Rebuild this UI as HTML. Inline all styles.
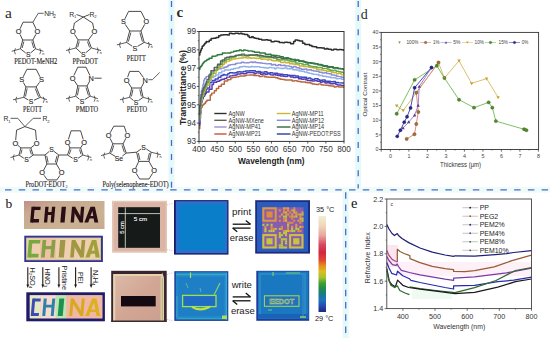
<!DOCTYPE html>
<html><head><meta charset="utf-8"><title>Figure</title>
<style>html,body{margin:0;padding:0;background:#fff;overflow:hidden;}svg{display:block;}</style>
</head><body>
<svg width="550" height="338" viewBox="0 0 550 338">
<rect width="550" height="338" fill="#ffffff"/>
<rect x="168.5" y="0" width="6" height="189" fill="#e6f9fa"/>
<rect x="355.2" y="0" width="6" height="189" fill="#e6f9fa"/>
<rect x="0" y="187" width="550" height="5.6" fill="#eefbfb"/>
<rect x="342.7" y="192" width="6" height="146" fill="#e6f9fa"/>
<text x="5" y="17.5" font-family='"Liberation Serif", serif' font-size="15.5" fill="#2a2a2a" text-anchor="start" font-weight="normal" style="">a</text>
<line x1="20.40" y1="48.80" x2="22.70" y2="40.00" stroke="#2a2a2a" stroke-width="0.85" />
<line x1="22.70" y1="40.00" x2="32.90" y2="40.00" stroke="#2a2a2a" stroke-width="0.85" />
<line x1="32.90" y1="40.00" x2="35.50" y2="48.80" stroke="#2a2a2a" stroke-width="0.85" />
<line x1="35.50" y1="48.80" x2="30.64" y2="52.93" stroke="#2a2a2a" stroke-width="0.85" />
<line x1="25.69" y1="53.01" x2="20.40" y2="48.80" stroke="#2a2a2a" stroke-width="0.85" />
<line x1="22.15" y1="48.02" x2="23.85" y2="41.54" stroke="#2a2a2a" stroke-width="0.8" />
<line x1="31.80" y1="41.58" x2="33.72" y2="48.07" stroke="#2a2a2a" stroke-width="0.8" />
<text x="28.2" y="57.448" font-family='"Liberation Sans", sans-serif' font-size="6.8" fill="#2a2a2a" text-anchor="middle" font-weight="normal" style="stroke:#2a2a2a;stroke-width:0.15">S</text>
<line x1="22.70" y1="40.00" x2="19.99" y2="34.31" stroke="#2a2a2a" stroke-width="0.85" />
<line x1="19.97" y1="28.88" x2="23.10" y2="22.20" stroke="#2a2a2a" stroke-width="0.85" />
<line x1="23.10" y1="22.20" x2="32.90" y2="22.20" stroke="#2a2a2a" stroke-width="0.85" />
<line x1="32.90" y1="22.20" x2="36.03" y2="28.88" stroke="#2a2a2a" stroke-width="0.85" />
<line x1="35.91" y1="34.26" x2="32.90" y2="40.00" stroke="#2a2a2a" stroke-width="0.85" />
<text x="18.7" y="34.264" font-family='"Liberation Sans", sans-serif' font-size="7.4" fill="#2a2a2a" text-anchor="middle" font-weight="normal" style="stroke:#2a2a2a;stroke-width:0.15">O</text>
<text x="37.3" y="34.264" font-family='"Liberation Sans", sans-serif' font-size="7.4" fill="#2a2a2a" text-anchor="middle" font-weight="normal" style="stroke:#2a2a2a;stroke-width:0.15">O</text>
<polyline points="32.90,22.20 38.20,13.30 43.60,13.30" fill="none" stroke="#2a2a2a" stroke-width="0.75" stroke-linejoin="round" />
<text x="44.2" y="16.0" font-family='"Liberation Sans", sans-serif' font-size="6.8" fill="#2a2a2a" text-anchor="start" font-weight="normal" style="">NH</text>
<text x="53.2" y="18.0" font-family='"Liberation Sans", sans-serif' font-size="4.6" fill="#2a2a2a" text-anchor="start" font-weight="normal" style="">2</text>
<line x1="20.40" y1="48.80" x2="11.70" y2="51.30" stroke="#2a2a2a" stroke-width="0.75" />
<line x1="35.50" y1="48.80" x2="43.50" y2="51.30" stroke="#2a2a2a" stroke-width="0.75" />
<path d="M15.40,48.30 Q13.48,51.30 15.40,54.30" fill="none" stroke="#2a2a2a" stroke-width="0.7"/>
<path d="M39.80,48.30 Q41.72,51.30 39.80,54.30" fill="none" stroke="#2a2a2a" stroke-width="0.7"/>
<text x="42.2" y="54.5" font-family='"Liberation Sans", sans-serif' font-size="3.8" fill="#2a2a2a" text-anchor="start" font-weight="normal" style="">n</text>
<text x="35.8" y="63.6" font-family='"Liberation Serif", serif' font-size="7.7" fill="#1a1a1a" text-anchor="middle" font-weight="normal" textLength="43" lengthAdjust="spacingAndGlyphs" style="stroke:#1a1a1a;stroke-width:0.12">PEDOT-MeNH2</text>
<line x1="75.90" y1="48.00" x2="78.10" y2="39.90" stroke="#2a2a2a" stroke-width="0.85" />
<line x1="78.10" y1="39.90" x2="88.40" y2="39.90" stroke="#2a2a2a" stroke-width="0.85" />
<line x1="88.40" y1="39.90" x2="91.40" y2="48.00" stroke="#2a2a2a" stroke-width="0.85" />
<line x1="91.40" y1="48.00" x2="85.75" y2="52.74" stroke="#2a2a2a" stroke-width="0.85" />
<line x1="80.94" y1="52.63" x2="75.90" y2="48.00" stroke="#2a2a2a" stroke-width="0.85" />
<line x1="77.66" y1="47.24" x2="79.23" y2="41.45" stroke="#2a2a2a" stroke-width="0.8" />
<line x1="87.41" y1="41.55" x2="89.58" y2="47.40" stroke="#2a2a2a" stroke-width="0.8" />
<text x="83.3" y="57.248" font-family='"Liberation Sans", sans-serif' font-size="6.8" fill="#2a2a2a" text-anchor="middle" font-weight="normal" style="stroke:#2a2a2a;stroke-width:0.15">S</text>
<line x1="78.10" y1="39.90" x2="74.52" y2="34.32" stroke="#2a2a2a" stroke-width="0.85" />
<line x1="73.40" y1="28.84" x2="74.40" y2="23.00" stroke="#2a2a2a" stroke-width="0.85" />
<line x1="74.40" y1="23.00" x2="83.30" y2="17.00" stroke="#2a2a2a" stroke-width="0.85" />
<line x1="83.30" y1="17.00" x2="92.60" y2="23.00" stroke="#2a2a2a" stroke-width="0.85" />
<line x1="92.60" y1="23.00" x2="93.80" y2="28.86" stroke="#2a2a2a" stroke-width="0.85" />
<line x1="92.61" y1="34.21" x2="88.40" y2="39.90" stroke="#2a2a2a" stroke-width="0.85" />
<text x="72.9" y="34.464" font-family='"Liberation Sans", sans-serif' font-size="7.4" fill="#2a2a2a" text-anchor="middle" font-weight="normal" style="stroke:#2a2a2a;stroke-width:0.15">O</text>
<text x="94.4" y="34.464" font-family='"Liberation Sans", sans-serif' font-size="7.4" fill="#2a2a2a" text-anchor="middle" font-weight="normal" style="stroke:#2a2a2a;stroke-width:0.15">O</text>
<line x1="83.30" y1="17.00" x2="76.50" y2="14.50" stroke="#2a2a2a" stroke-width="0.85" />
<line x1="83.30" y1="17.00" x2="89.50" y2="14.50" stroke="#2a2a2a" stroke-width="0.85" />
<text x="69.3" y="16.6" font-family='"Liberation Sans", sans-serif' font-size="6.8" fill="#2a2a2a" text-anchor="start" font-weight="normal" style="">R</text>
<text x="74.0" y="18.2" font-family='"Liberation Sans", sans-serif' font-size="4.2" fill="#2a2a2a" text-anchor="start" font-weight="normal" style="">1</text>
<text x="89.6" y="16.6" font-family='"Liberation Sans", sans-serif' font-size="6.8" fill="#2a2a2a" text-anchor="start" font-weight="normal" style="">R</text>
<text x="94.3" y="18.2" font-family='"Liberation Sans", sans-serif' font-size="4.2" fill="#2a2a2a" text-anchor="start" font-weight="normal" style="">2</text>
<line x1="75.90" y1="48.00" x2="66.00" y2="50.50" stroke="#2a2a2a" stroke-width="0.75" />
<line x1="91.40" y1="48.00" x2="101.00" y2="50.50" stroke="#2a2a2a" stroke-width="0.75" />
<path d="M69.70,47.50 Q67.78,50.50 69.70,53.50" fill="none" stroke="#2a2a2a" stroke-width="0.7"/>
<path d="M97.30,47.50 Q99.22,50.50 97.30,53.50" fill="none" stroke="#2a2a2a" stroke-width="0.7"/>
<text x="99.7" y="53.7" font-family='"Liberation Sans", sans-serif' font-size="3.8" fill="#2a2a2a" text-anchor="start" font-weight="normal" style="">n</text>
<text x="85.3" y="63.6" font-family='"Liberation Serif", serif' font-size="7.7" fill="#1a1a1a" text-anchor="middle" font-weight="normal" textLength="25.4" lengthAdjust="spacingAndGlyphs" style="stroke:#1a1a1a;stroke-width:0.12">PProDOT</text>
<line x1="126.60" y1="42.40" x2="129.70" y2="31.00" stroke="#2a2a2a" stroke-width="0.85" />
<line x1="129.70" y1="31.00" x2="141.00" y2="31.00" stroke="#2a2a2a" stroke-width="0.85" />
<line x1="141.00" y1="31.00" x2="144.20" y2="42.40" stroke="#2a2a2a" stroke-width="0.85" />
<line x1="144.20" y1="42.40" x2="137.55" y2="46.36" stroke="#2a2a2a" stroke-width="0.85" />
<line x1="132.16" y1="46.20" x2="126.60" y2="42.40" stroke="#2a2a2a" stroke-width="0.85" />
<line x1="128.36" y1="41.64" x2="130.83" y2="32.55" stroke="#2a2a2a" stroke-width="0.8" />
<line x1="139.88" y1="32.56" x2="142.43" y2="41.65" stroke="#2a2a2a" stroke-width="0.8" />
<text x="134.8" y="50.592" font-family='"Liberation Sans", sans-serif' font-size="7.2" fill="#2a2a2a" text-anchor="middle" font-weight="normal" style="stroke:#2a2a2a;stroke-width:0.15">S</text>
<line x1="129.70" y1="31.00" x2="125.28" y2="24.36" stroke="#2a2a2a" stroke-width="0.85" />
<line x1="124.92" y1="18.83" x2="128.60" y2="11.40" stroke="#2a2a2a" stroke-width="0.85" />
<line x1="128.60" y1="11.40" x2="141.00" y2="11.40" stroke="#2a2a2a" stroke-width="0.85" />
<line x1="141.00" y1="11.40" x2="144.85" y2="19.02" stroke="#2a2a2a" stroke-width="0.85" />
<line x1="144.74" y1="24.32" x2="141.00" y2="31.00" stroke="#2a2a2a" stroke-width="0.85" />
<text x="123.5" y="24.291999999999998" font-family='"Liberation Sans", sans-serif' font-size="7.2" fill="#2a2a2a" text-anchor="middle" font-weight="normal" style="stroke:#2a2a2a;stroke-width:0.15">S</text>
<text x="146.2" y="24.291999999999998" font-family='"Liberation Sans", sans-serif' font-size="7.2" fill="#2a2a2a" text-anchor="middle" font-weight="normal" style="stroke:#2a2a2a;stroke-width:0.15">O</text>
<line x1="126.60" y1="42.40" x2="116.80" y2="44.90" stroke="#2a2a2a" stroke-width="0.75" />
<line x1="144.20" y1="42.40" x2="152.10" y2="44.90" stroke="#2a2a2a" stroke-width="0.75" />
<path d="M120.50,41.90 Q118.58,44.90 120.50,47.90" fill="none" stroke="#2a2a2a" stroke-width="0.7"/>
<path d="M148.40,41.90 Q150.32,44.90 148.40,47.90" fill="none" stroke="#2a2a2a" stroke-width="0.7"/>
<text x="150.79999999999998" y="48.1" font-family='"Liberation Sans", sans-serif' font-size="3.8" fill="#2a2a2a" text-anchor="start" font-weight="normal" style="">n</text>
<text x="136.3" y="60.8" font-family='"Liberation Serif", serif' font-size="7.7" fill="#1a1a1a" text-anchor="middle" font-weight="normal" textLength="19" lengthAdjust="spacingAndGlyphs" style="stroke:#1a1a1a;stroke-width:0.12">PEDTT</text>
<line x1="23.80" y1="97.30" x2="25.90" y2="86.90" stroke="#2a2a2a" stroke-width="0.85" />
<line x1="25.90" y1="86.90" x2="36.20" y2="86.90" stroke="#2a2a2a" stroke-width="0.85" />
<line x1="36.20" y1="86.90" x2="40.40" y2="97.30" stroke="#2a2a2a" stroke-width="0.85" />
<line x1="40.40" y1="97.30" x2="34.00" y2="100.26" stroke="#2a2a2a" stroke-width="0.85" />
<line x1="28.34" y1="99.98" x2="23.80" y2="97.30" stroke="#2a2a2a" stroke-width="0.85" />
<line x1="25.51" y1="96.42" x2="27.13" y2="88.37" stroke="#2a2a2a" stroke-width="0.8" />
<line x1="35.26" y1="88.57" x2="38.56" y2="96.75" stroke="#2a2a2a" stroke-width="0.8" />
<text x="31.1" y="104.04799999999999" font-family='"Liberation Sans", sans-serif' font-size="6.8" fill="#2a2a2a" text-anchor="middle" font-weight="normal" style="stroke:#2a2a2a;stroke-width:0.15">S</text>
<line x1="25.90" y1="86.90" x2="23.31" y2="82.46" stroke="#2a2a2a" stroke-width="0.85" />
<line x1="23.13" y1="76.84" x2="26.90" y2="69.30" stroke="#2a2a2a" stroke-width="0.85" />
<line x1="26.90" y1="69.30" x2="36.20" y2="69.30" stroke="#2a2a2a" stroke-width="0.85" />
<line x1="36.20" y1="69.30" x2="39.97" y2="76.84" stroke="#2a2a2a" stroke-width="0.85" />
<line x1="39.53" y1="82.29" x2="36.20" y2="86.90" stroke="#2a2a2a" stroke-width="0.85" />
<text x="21.7" y="82.364" font-family='"Liberation Sans", sans-serif' font-size="7.4" fill="#2a2a2a" text-anchor="middle" font-weight="normal" style="stroke:#2a2a2a;stroke-width:0.15">S</text>
<text x="41.4" y="82.364" font-family='"Liberation Sans", sans-serif' font-size="7.4" fill="#2a2a2a" text-anchor="middle" font-weight="normal" style="stroke:#2a2a2a;stroke-width:0.15">S</text>
<line x1="23.80" y1="97.30" x2="13.00" y2="99.80" stroke="#2a2a2a" stroke-width="0.75" />
<line x1="40.40" y1="97.30" x2="47.00" y2="99.80" stroke="#2a2a2a" stroke-width="0.75" />
<path d="M16.70,96.80 Q14.78,99.80 16.70,102.80" fill="none" stroke="#2a2a2a" stroke-width="0.7"/>
<path d="M43.30,96.80 Q45.22,99.80 43.30,102.80" fill="none" stroke="#2a2a2a" stroke-width="0.7"/>
<text x="45.7" y="103.0" font-family='"Liberation Sans", sans-serif' font-size="3.8" fill="#2a2a2a" text-anchor="start" font-weight="normal" style="">n</text>
<text x="32.5" y="111.8" font-family='"Liberation Serif", serif' font-size="7.7" fill="#1a1a1a" text-anchor="middle" font-weight="normal" textLength="19" lengthAdjust="spacingAndGlyphs" style="stroke:#1a1a1a;stroke-width:0.12">PEOTT</text>
<line x1="75.70" y1="96.20" x2="77.80" y2="85.90" stroke="#2a2a2a" stroke-width="0.85" />
<line x1="77.80" y1="85.90" x2="87.10" y2="85.90" stroke="#2a2a2a" stroke-width="0.85" />
<line x1="87.10" y1="85.90" x2="90.20" y2="96.20" stroke="#2a2a2a" stroke-width="0.85" />
<line x1="90.20" y1="96.20" x2="84.64" y2="99.55" stroke="#2a2a2a" stroke-width="0.85" />
<line x1="79.41" y1="99.19" x2="75.70" y2="96.20" stroke="#2a2a2a" stroke-width="0.85" />
<line x1="77.41" y1="95.32" x2="79.03" y2="87.38" stroke="#2a2a2a" stroke-width="0.8" />
<line x1="86.01" y1="87.48" x2="88.42" y2="95.48" stroke="#2a2a2a" stroke-width="0.8" />
<text x="81.9" y="103.648" font-family='"Liberation Sans", sans-serif' font-size="6.8" fill="#2a2a2a" text-anchor="middle" font-weight="normal" style="stroke:#2a2a2a;stroke-width:0.15">S</text>
<line x1="77.80" y1="85.90" x2="74.28" y2="80.69" stroke="#2a2a2a" stroke-width="0.85" />
<line x1="73.88" y1="75.49" x2="77.80" y2="67.20" stroke="#2a2a2a" stroke-width="0.85" />
<line x1="77.80" y1="67.20" x2="86.00" y2="67.20" stroke="#2a2a2a" stroke-width="0.85" />
<line x1="86.00" y1="67.20" x2="89.92" y2="75.49" stroke="#2a2a2a" stroke-width="0.85" />
<line x1="89.79" y1="80.85" x2="87.10" y2="85.90" stroke="#2a2a2a" stroke-width="0.85" />
<text x="72.6" y="80.864" font-family='"Liberation Sans", sans-serif' font-size="7.4" fill="#2a2a2a" text-anchor="middle" font-weight="normal" style="stroke:#2a2a2a;stroke-width:0.15">O</text>
<text x="91.2" y="80.864" font-family='"Liberation Sans", sans-serif' font-size="7.4" fill="#2a2a2a" text-anchor="middle" font-weight="normal" style="stroke:#2a2a2a;stroke-width:0.15">N</text>
<line x1="94.40" y1="78.20" x2="101.60" y2="78.20" stroke="#2a2a2a" stroke-width="0.85" />
<line x1="75.70" y1="96.20" x2="66.00" y2="98.70" stroke="#2a2a2a" stroke-width="0.75" />
<line x1="90.20" y1="96.20" x2="97.90" y2="98.70" stroke="#2a2a2a" stroke-width="0.75" />
<path d="M69.70,95.70 Q67.78,98.70 69.70,101.70" fill="none" stroke="#2a2a2a" stroke-width="0.7"/>
<path d="M94.20,95.70 Q96.12,98.70 94.20,101.70" fill="none" stroke="#2a2a2a" stroke-width="0.7"/>
<text x="96.60000000000001" y="101.9" font-family='"Liberation Sans", sans-serif' font-size="3.8" fill="#2a2a2a" text-anchor="start" font-weight="normal" style="">n</text>
<text x="87" y="111.8" font-family='"Liberation Serif", serif' font-size="7.7" fill="#1a1a1a" text-anchor="middle" font-weight="normal" textLength="22.3" lengthAdjust="spacingAndGlyphs" style="stroke:#1a1a1a;stroke-width:0.12">PMDTO</text>
<line x1="129.70" y1="97.30" x2="131.70" y2="88.00" stroke="#2a2a2a" stroke-width="0.85" />
<line x1="131.70" y1="88.00" x2="141.00" y2="88.00" stroke="#2a2a2a" stroke-width="0.85" />
<line x1="141.00" y1="88.00" x2="143.10" y2="97.30" stroke="#2a2a2a" stroke-width="0.85" />
<line x1="143.10" y1="97.30" x2="138.48" y2="100.70" stroke="#2a2a2a" stroke-width="0.85" />
<line x1="133.47" y1="100.52" x2="129.70" y2="97.30" stroke="#2a2a2a" stroke-width="0.85" />
<line x1="131.42" y1="96.44" x2="132.91" y2="89.49" stroke="#2a2a2a" stroke-width="0.8" />
<line x1="139.80" y1="89.50" x2="141.37" y2="96.46" stroke="#2a2a2a" stroke-width="0.8" />
<text x="135.9" y="105.04799999999999" font-family='"Liberation Sans", sans-serif' font-size="6.8" fill="#2a2a2a" text-anchor="middle" font-weight="normal" style="stroke:#2a2a2a;stroke-width:0.15">S</text>
<line x1="131.70" y1="88.00" x2="128.21" y2="82.53" stroke="#2a2a2a" stroke-width="0.85" />
<line x1="127.62" y1="77.18" x2="129.70" y2="71.40" stroke="#2a2a2a" stroke-width="0.85" />
<line x1="129.70" y1="71.40" x2="139.00" y2="71.40" stroke="#2a2a2a" stroke-width="0.85" />
<line x1="139.00" y1="71.40" x2="143.45" y2="77.57" stroke="#2a2a2a" stroke-width="0.85" />
<line x1="143.81" y1="82.66" x2="141.00" y2="88.00" stroke="#2a2a2a" stroke-width="0.85" />
<text x="126.6" y="82.664" font-family='"Liberation Sans", sans-serif' font-size="7.4" fill="#2a2a2a" text-anchor="middle" font-weight="normal" style="stroke:#2a2a2a;stroke-width:0.15">O</text>
<text x="145.2" y="82.664" font-family='"Liberation Sans", sans-serif' font-size="7.4" fill="#2a2a2a" text-anchor="middle" font-weight="normal" style="stroke:#2a2a2a;stroke-width:0.15">N</text>
<polyline points="148.30,79.70 152.40,79.70 159.70,72.40" fill="none" stroke="#2a2a2a" stroke-width="0.75" stroke-linejoin="round" />
<line x1="129.70" y1="97.30" x2="119.90" y2="99.80" stroke="#2a2a2a" stroke-width="0.75" />
<line x1="143.10" y1="97.30" x2="151.80" y2="99.80" stroke="#2a2a2a" stroke-width="0.75" />
<path d="M123.60,96.80 Q121.68,99.80 123.60,102.80" fill="none" stroke="#2a2a2a" stroke-width="0.7"/>
<path d="M148.10,96.80 Q150.02,99.80 148.10,102.80" fill="none" stroke="#2a2a2a" stroke-width="0.7"/>
<text x="150.5" y="103.0" font-family='"Liberation Sans", sans-serif' font-size="3.8" fill="#2a2a2a" text-anchor="start" font-weight="normal" style="">n</text>
<text x="137" y="111.8" font-family='"Liberation Serif", serif' font-size="7.7" fill="#1a1a1a" text-anchor="middle" font-weight="normal" textLength="20.3" lengthAdjust="spacingAndGlyphs" style="stroke:#1a1a1a;stroke-width:0.12">PEDTO</text>
<line x1="19.00" y1="155.00" x2="20.90" y2="147.90" stroke="#2a2a2a" stroke-width="0.85" />
<line x1="20.90" y1="147.90" x2="30.80" y2="147.90" stroke="#2a2a2a" stroke-width="0.85" />
<line x1="30.80" y1="147.90" x2="33.20" y2="155.00" stroke="#2a2a2a" stroke-width="0.85" />
<line x1="33.20" y1="155.00" x2="29.06" y2="158.09" stroke="#2a2a2a" stroke-width="0.85" />
<line x1="23.84" y1="158.22" x2="19.00" y2="155.00" stroke="#2a2a2a" stroke-width="0.85" />
<line x1="20.76" y1="154.23" x2="22.04" y2="149.45" stroke="#2a2a2a" stroke-width="0.8" />
<line x1="29.76" y1="149.52" x2="31.39" y2="154.34" stroke="#2a2a2a" stroke-width="0.8" />
<text x="26.5" y="162.448" font-family='"Liberation Sans", sans-serif' font-size="6.8" fill="#2a2a2a" text-anchor="middle" font-weight="normal" style="stroke:#2a2a2a;stroke-width:0.15">S</text>
<line x1="20.90" y1="147.90" x2="17.68" y2="145.15" stroke="#2a2a2a" stroke-width="0.85" />
<line x1="15.67" y1="140.21" x2="16.60" y2="130.10" stroke="#2a2a2a" stroke-width="0.85" />
<line x1="16.60" y1="130.10" x2="24.90" y2="126.60" stroke="#2a2a2a" stroke-width="0.85" />
<line x1="24.90" y1="126.60" x2="35.50" y2="130.10" stroke="#2a2a2a" stroke-width="0.85" />
<line x1="35.50" y1="130.10" x2="36.43" y2="140.21" stroke="#2a2a2a" stroke-width="0.85" />
<line x1="34.35" y1="145.07" x2="30.80" y2="147.90" stroke="#2a2a2a" stroke-width="0.85" />
<text x="15.4" y="145.86399999999998" font-family='"Liberation Sans", sans-serif' font-size="7.4" fill="#2a2a2a" text-anchor="middle" font-weight="normal" style="stroke:#2a2a2a;stroke-width:0.15">O</text>
<text x="36.7" y="145.86399999999998" font-family='"Liberation Sans", sans-serif' font-size="7.4" fill="#2a2a2a" text-anchor="middle" font-weight="normal" style="stroke:#2a2a2a;stroke-width:0.15">O</text>
<polyline points="10.50,118.30 17.80,118.30 24.90,126.60" fill="none" stroke="#2a2a2a" stroke-width="0.75" stroke-linejoin="round" />
<polyline points="24.90,126.60 33.20,118.30 41.00,118.30" fill="none" stroke="#2a2a2a" stroke-width="0.75" stroke-linejoin="round" />
<text x="3.6" y="121.2" font-family='"Liberation Sans", sans-serif' font-size="6.8" fill="#2a2a2a" text-anchor="start" font-weight="normal" style="">R</text>
<text x="8.3" y="122.8" font-family='"Liberation Sans", sans-serif' font-size="4.2" fill="#2a2a2a" text-anchor="start" font-weight="normal" style="">1</text>
<text x="42.5" y="121.2" font-family='"Liberation Sans", sans-serif' font-size="6.8" fill="#2a2a2a" text-anchor="start" font-weight="normal" style="">R</text>
<text x="47.2" y="122.8" font-family='"Liberation Sans", sans-serif' font-size="4.2" fill="#2a2a2a" text-anchor="start" font-weight="normal" style="">2</text>
<line x1="45.00" y1="155.00" x2="46.90" y2="164.00" stroke="#2a2a2a" stroke-width="0.85" />
<line x1="46.90" y1="164.00" x2="56.40" y2="164.00" stroke="#2a2a2a" stroke-width="0.85" />
<line x1="56.40" y1="164.00" x2="58.80" y2="155.00" stroke="#2a2a2a" stroke-width="0.85" />
<line x1="58.80" y1="155.00" x2="54.06" y2="151.43" stroke="#2a2a2a" stroke-width="0.85" />
<line x1="49.06" y1="151.57" x2="45.00" y2="155.00" stroke="#2a2a2a" stroke-width="0.85" />
<line x1="46.72" y1="155.86" x2="48.12" y2="162.52" stroke="#2a2a2a" stroke-width="0.8" />
<line x1="55.26" y1="162.45" x2="57.04" y2="155.77" stroke="#2a2a2a" stroke-width="0.8" />
<text x="51.5" y="151.948" font-family='"Liberation Sans", sans-serif' font-size="6.8" fill="#2a2a2a" text-anchor="middle" font-weight="normal" style="stroke:#2a2a2a;stroke-width:0.15">S</text>
<line x1="33.20" y1="155.00" x2="45.00" y2="155.00" stroke="#2a2a2a" stroke-width="0.85" />
<line x1="46.90" y1="164.00" x2="43.61" y2="170.15" stroke="#2a2a2a" stroke-width="0.85" />
<line x1="43.97" y1="175.22" x2="47.40" y2="179.90" stroke="#2a2a2a" stroke-width="0.85" />
<line x1="47.40" y1="179.90" x2="56.90" y2="179.90" stroke="#2a2a2a" stroke-width="0.85" />
<line x1="56.90" y1="179.90" x2="59.94" y2="175.30" stroke="#2a2a2a" stroke-width="0.85" />
<line x1="60.07" y1="170.22" x2="56.40" y2="164.00" stroke="#2a2a2a" stroke-width="0.85" />
<text x="42.2" y="175.464" font-family='"Liberation Sans", sans-serif' font-size="7.4" fill="#2a2a2a" text-anchor="middle" font-weight="normal" style="stroke:#2a2a2a;stroke-width:0.15">O</text>
<text x="61.6" y="175.464" font-family='"Liberation Sans", sans-serif' font-size="7.4" fill="#2a2a2a" text-anchor="middle" font-weight="normal" style="stroke:#2a2a2a;stroke-width:0.15">O</text>
<line x1="67.50" y1="155.00" x2="69.90" y2="147.90" stroke="#2a2a2a" stroke-width="0.85" />
<line x1="69.90" y1="147.90" x2="80.60" y2="147.90" stroke="#2a2a2a" stroke-width="0.85" />
<line x1="80.60" y1="147.90" x2="82.90" y2="155.00" stroke="#2a2a2a" stroke-width="0.85" />
<line x1="82.90" y1="155.00" x2="78.06" y2="158.22" stroke="#2a2a2a" stroke-width="0.85" />
<line x1="72.70" y1="158.29" x2="67.50" y2="155.00" stroke="#2a2a2a" stroke-width="0.85" />
<line x1="69.31" y1="154.34" x2="70.94" y2="149.52" stroke="#2a2a2a" stroke-width="0.8" />
<line x1="79.54" y1="149.50" x2="81.10" y2="154.32" stroke="#2a2a2a" stroke-width="0.8" />
<text x="75.4" y="162.448" font-family='"Liberation Sans", sans-serif' font-size="6.8" fill="#2a2a2a" text-anchor="middle" font-weight="normal" style="stroke:#2a2a2a;stroke-width:0.15">S</text>
<line x1="58.80" y1="155.00" x2="67.50" y2="155.00" stroke="#2a2a2a" stroke-width="0.85" />
<line x1="69.90" y1="147.90" x2="68.68" y2="145.06" stroke="#2a2a2a" stroke-width="0.85" />
<line x1="68.40" y1="139.44" x2="71.10" y2="130.80" stroke="#2a2a2a" stroke-width="0.85" />
<line x1="71.10" y1="130.80" x2="80.60" y2="130.80" stroke="#2a2a2a" stroke-width="0.85" />
<line x1="80.60" y1="130.80" x2="83.23" y2="139.43" stroke="#2a2a2a" stroke-width="0.85" />
<line x1="82.51" y1="144.84" x2="80.60" y2="147.90" stroke="#2a2a2a" stroke-width="0.85" />
<text x="67.5" y="144.964" font-family='"Liberation Sans", sans-serif' font-size="7.4" fill="#2a2a2a" text-anchor="middle" font-weight="normal" style="stroke:#2a2a2a;stroke-width:0.15">O</text>
<text x="84.1" y="144.964" font-family='"Liberation Sans", sans-serif' font-size="7.4" fill="#2a2a2a" text-anchor="middle" font-weight="normal" style="stroke:#2a2a2a;stroke-width:0.15">O</text>
<line x1="19.00" y1="155.00" x2="10.50" y2="157.50" stroke="#2a2a2a" stroke-width="0.75" />
<line x1="82.90" y1="155.00" x2="91.40" y2="157.50" stroke="#2a2a2a" stroke-width="0.75" />
<path d="M14.20,154.50 Q12.28,157.50 14.20,160.50" fill="none" stroke="#2a2a2a" stroke-width="0.7"/>
<path d="M87.70,154.50 Q89.62,157.50 87.70,160.50" fill="none" stroke="#2a2a2a" stroke-width="0.7"/>
<text x="90.10000000000001" y="160.7" font-family='"Liberation Sans", sans-serif' font-size="3.8" fill="#2a2a2a" text-anchor="start" font-weight="normal" style="">n</text>
<text x="45.4" y="186.9" font-family='"Liberation Serif", serif' font-size="7.7" fill="#1a1a1a" text-anchor="middle" font-weight="normal" textLength="39.8" lengthAdjust="spacingAndGlyphs" style="stroke:#1a1a1a;stroke-width:0.12">ProDOT-EDOT</text>
<text x="65.6" y="188.4" font-family='"Liberation Serif", serif' font-size="4.2" fill="#1a1a1a" text-anchor="start" font-weight="normal" style="">2</text>
<line x1="109.70" y1="153.10" x2="112.80" y2="143.80" stroke="#2a2a2a" stroke-width="0.85" />
<line x1="112.80" y1="143.80" x2="123.10" y2="143.80" stroke="#2a2a2a" stroke-width="0.85" />
<line x1="123.10" y1="143.80" x2="126.20" y2="153.10" stroke="#2a2a2a" stroke-width="0.85" />
<line x1="126.20" y1="153.10" x2="122.36" y2="155.98" stroke="#2a2a2a" stroke-width="0.85" />
<line x1="115.37" y1="156.39" x2="109.70" y2="153.10" stroke="#2a2a2a" stroke-width="0.85" />
<line x1="111.50" y1="152.44" x2="113.84" y2="145.41" stroke="#2a2a2a" stroke-width="0.8" />
<line x1="122.06" y1="145.41" x2="124.40" y2="152.44" stroke="#2a2a2a" stroke-width="0.8" />
<text x="119" y="160.948" font-family='"Liberation Sans", sans-serif' font-size="6.8" fill="#2a2a2a" text-anchor="middle" font-weight="normal" style="stroke:#2a2a2a;stroke-width:0.15">Se</text>
<line x1="112.80" y1="143.80" x2="109.95" y2="138.18" stroke="#2a2a2a" stroke-width="0.85" />
<line x1="110.06" y1="132.88" x2="113.80" y2="126.20" stroke="#2a2a2a" stroke-width="0.85" />
<line x1="113.80" y1="126.20" x2="124.20" y2="126.20" stroke="#2a2a2a" stroke-width="0.85" />
<line x1="124.20" y1="126.20" x2="126.35" y2="132.65" stroke="#2a2a2a" stroke-width="0.85" />
<line x1="125.95" y1="138.18" x2="123.10" y2="143.80" stroke="#2a2a2a" stroke-width="0.85" />
<text x="108.6" y="138.164" font-family='"Liberation Sans", sans-serif' font-size="7.4" fill="#2a2a2a" text-anchor="middle" font-weight="normal" style="stroke:#2a2a2a;stroke-width:0.15">O</text>
<text x="127.3" y="138.164" font-family='"Liberation Sans", sans-serif' font-size="7.4" fill="#2a2a2a" text-anchor="middle" font-weight="normal" style="stroke:#2a2a2a;stroke-width:0.15">O</text>
<line x1="136.60" y1="152.20" x2="138.70" y2="161.40" stroke="#2a2a2a" stroke-width="0.85" />
<line x1="138.70" y1="161.40" x2="149.00" y2="161.40" stroke="#2a2a2a" stroke-width="0.85" />
<line x1="149.00" y1="161.40" x2="151.20" y2="152.20" stroke="#2a2a2a" stroke-width="0.85" />
<line x1="151.20" y1="152.20" x2="146.27" y2="148.96" stroke="#2a2a2a" stroke-width="0.85" />
<line x1="141.00" y1="149.06" x2="136.60" y2="152.20" stroke="#2a2a2a" stroke-width="0.85" />
<line x1="138.33" y1="153.04" x2="139.90" y2="159.90" stroke="#2a2a2a" stroke-width="0.8" />
<line x1="147.82" y1="159.88" x2="149.46" y2="153.02" stroke="#2a2a2a" stroke-width="0.8" />
<text x="143.6" y="149.648" font-family='"Liberation Sans", sans-serif' font-size="6.8" fill="#2a2a2a" text-anchor="middle" font-weight="normal" style="stroke:#2a2a2a;stroke-width:0.15">S</text>
<line x1="126.20" y1="153.10" x2="136.60" y2="152.20" stroke="#2a2a2a" stroke-width="0.85" />
<line x1="138.70" y1="161.40" x2="135.73" y2="167.97" stroke="#2a2a2a" stroke-width="0.85" />
<line x1="136.09" y1="173.24" x2="139.70" y2="179.00" stroke="#2a2a2a" stroke-width="0.85" />
<line x1="139.70" y1="179.00" x2="149.00" y2="179.00" stroke="#2a2a2a" stroke-width="0.85" />
<line x1="149.00" y1="179.00" x2="152.61" y2="173.24" stroke="#2a2a2a" stroke-width="0.85" />
<line x1="152.74" y1="168.08" x2="149.00" y2="161.40" stroke="#2a2a2a" stroke-width="0.85" />
<text x="134.5" y="173.36399999999998" font-family='"Liberation Sans", sans-serif' font-size="7.4" fill="#2a2a2a" text-anchor="middle" font-weight="normal" style="stroke:#2a2a2a;stroke-width:0.15">O</text>
<text x="154.2" y="173.36399999999998" font-family='"Liberation Sans", sans-serif' font-size="7.4" fill="#2a2a2a" text-anchor="middle" font-weight="normal" style="stroke:#2a2a2a;stroke-width:0.15">O</text>
<line x1="109.70" y1="153.10" x2="101.00" y2="155.60" stroke="#2a2a2a" stroke-width="0.75" />
<line x1="151.20" y1="152.20" x2="160.80" y2="154.70" stroke="#2a2a2a" stroke-width="0.75" />
<path d="M104.70,152.60 Q102.78,155.60 104.70,158.60" fill="none" stroke="#2a2a2a" stroke-width="0.7"/>
<path d="M157.10,151.70 Q159.02,154.70 157.10,157.70" fill="none" stroke="#2a2a2a" stroke-width="0.7"/>
<text x="159.5" y="157.89999999999998" font-family='"Liberation Sans", sans-serif' font-size="3.8" fill="#2a2a2a" text-anchor="start" font-weight="normal" style="">n</text>
<text x="135.6" y="187.0" font-family='"Liberation Serif", serif' font-size="7.7" fill="#1a1a1a" text-anchor="middle" font-weight="normal" textLength="66.3" lengthAdjust="spacingAndGlyphs" style="stroke:#1a1a1a;stroke-width:0.12">Poly(selenophene-EDOT)</text>
<text x="176.5" y="17.2" font-family='"Liberation Serif", serif' font-size="15" fill="#2a2a2a" text-anchor="start" font-weight="bold" style="">c</text>
<polyline points="199.00,128.50 199.80,128.50 199.80,118.05 200.60,118.05 200.60,108.50 201.40,108.50 201.40,107.18 202.20,107.18 202.20,105.61 203.00,105.61 203.00,104.70 203.80,104.70 203.80,103.99 204.60,103.99 204.60,103.52 205.40,103.52 205.40,102.05 206.20,102.05 206.20,101.19 207.00,101.19 207.00,100.21 210.27,100.21 210.27,95.00 211.79,95.00 211.79,93.11 214.39,93.11 214.39,90.84 216.38,90.84 216.38,88.55 218.69,88.55 218.69,86.23 221.41,86.23 221.41,84.15 224.32,84.15 224.32,81.00 227.62,81.00 227.62,79.74 229.15,79.74 229.15,79.64 230.84,79.64 230.84,77.75 232.86,77.75 232.86,77.36 236.03,77.36 236.03,76.88 238.52,76.88 238.52,76.37 240.09,76.37 240.09,75.98 243.15,75.98 243.15,76.00 245.02,76.00 245.02,75.44 246.53,75.44 246.53,75.12 249.54,75.12 249.54,74.90 252.01,74.90 252.01,74.93 253.73,74.93 253.73,75.42 255.89,75.42 255.89,75.60 257.55,75.60 257.55,75.58 259.17,75.58 259.17,76.41 262.16,76.41 262.16,75.86 264.44,75.86 264.44,76.67 266.35,76.67 266.35,77.02 268.97,77.02 268.97,77.39 270.64,77.39 270.64,77.25 272.40,77.25 272.40,77.28 275.41,77.28 275.41,77.66 277.78,77.66 277.78,78.54 280.05,78.54 280.05,79.30 282.86,79.30 282.86,79.43 284.91,79.43 284.91,80.06 287.21,80.06 287.21,79.90 289.40,79.90 289.40,79.96 292.14,79.96 292.14,81.02 294.58,81.02 294.58,80.61 297.02,80.61 297.02,81.27 298.58,81.27 298.58,81.59 300.91,81.59 300.91,82.00 303.16,82.00 303.16,82.09 305.63,82.09 305.63,82.52 307.39,82.52 307.39,82.80 310.69,82.80 310.69,83.33 312.20,83.33 312.20,84.01 314.66,84.01 314.66,84.33 316.28,84.33 316.28,84.51 318.59,84.51 318.59,83.89 320.97,83.89 320.97,84.84 323.24,84.84 323.24,85.13 325.54,85.13 325.54,85.24 328.71,85.24 328.71,85.66 330.96,85.66 330.96,85.99 334.15,85.99 334.15,86.92 336.04,86.92 336.04,86.64 338.80,86.64 338.80,86.94 341.37,86.94 341.37,87.05 343.73,87.05 343.73,87.36 344.00,87.36" fill="none" stroke="#b5693c" stroke-width="1.45" stroke-linejoin="round" />
<polyline points="199.00,124.97 199.80,124.97 199.80,114.24 200.60,114.24 200.60,104.65 201.40,104.65 201.40,102.12 202.20,102.12 202.20,99.04 203.00,99.04 203.00,96.84 203.80,96.84 203.80,96.20 204.60,96.20 204.60,94.77 205.40,94.77 205.40,93.56 206.20,93.56 206.20,92.30 207.00,92.30 207.00,91.99 209.02,91.99 209.02,89.27 212.02,89.27 212.02,84.57 213.54,84.57 213.54,82.24 216.83,82.24 216.83,81.17 219.45,81.17 219.45,80.58 220.92,80.58 220.92,79.53 222.47,79.53 222.47,79.23 224.38,79.23 224.38,78.57 226.71,78.57 226.71,77.11 229.77,77.11 229.77,75.87 232.44,75.87 232.44,75.42 235.15,75.42 235.15,75.00 237.12,75.00 237.12,74.06 240.47,74.06 240.47,73.64 243.27,73.64 243.27,73.73 245.15,73.73 245.15,73.43 246.73,73.43 246.73,72.63 248.94,72.63 248.94,72.41 251.12,72.41 251.12,72.46 254.19,72.46 254.19,73.75 256.03,73.75 256.03,72.89 258.37,72.89 258.37,73.00 260.58,73.00 260.58,74.16 263.22,74.16 263.22,73.59 265.18,73.59 265.18,74.51 267.26,74.51 267.26,73.70 270.16,73.70 270.16,74.86 272.07,74.86 272.07,75.05 273.62,75.05 273.62,74.45 275.40,74.45 275.40,74.91 277.70,74.91 277.70,75.57 280.55,75.57 280.55,75.96 283.23,75.96 283.23,76.27 285.47,76.27 285.47,76.41 287.43,76.41 287.43,75.80 290.41,75.80 290.41,76.93 293.55,76.93 293.55,77.63 295.75,77.63 295.75,77.35 298.42,77.35 298.42,78.69 301.76,78.69 301.76,79.20 303.70,79.20 303.70,78.96 305.77,78.96 305.77,79.88 307.35,79.88 307.35,80.41 309.91,80.41 309.91,80.65 312.50,80.65 312.50,80.90 314.81,80.90 314.81,80.61 317.18,80.61 317.18,81.39 320.29,81.39 320.29,82.29 322.02,82.29 322.02,81.75 325.03,81.75 325.03,82.93 326.84,82.93 326.84,82.67 330.08,82.67 330.08,83.76 333.35,83.76 333.35,83.50 335.94,83.50 335.94,84.40 337.58,84.40 337.58,85.07 340.87,85.07 340.87,85.35 343.67,85.35 343.67,85.75 344.00,85.75" fill="none" stroke="#5a3ab0" stroke-width="1.45" stroke-linejoin="round" />
<polyline points="199.00,123.11 199.80,123.11 199.80,112.80 200.60,112.80 200.60,103.96 201.40,103.96 201.40,101.20 202.20,101.20 202.20,98.63 203.00,98.63 203.00,96.54 203.80,96.54 203.80,94.96 204.60,94.96 204.60,92.69 205.40,92.69 205.40,91.13 206.20,91.13 206.20,89.54 207.00,89.54 207.00,87.90 209.71,87.90 209.71,82.64 211.99,82.64 211.99,80.56 215.17,80.56 215.17,78.96 218.19,78.96 218.19,77.31 220.95,77.31 220.95,75.59 223.16,75.59 223.16,74.45 224.64,74.45 224.64,74.93 227.83,74.93 227.83,73.60 229.45,73.60 229.45,72.65 232.71,72.65 232.71,72.98 234.96,72.98 234.96,72.71 237.00,72.71 237.00,71.95 238.75,71.95 238.75,71.67 240.29,71.67 240.29,72.08 243.30,72.08 243.30,71.50 245.54,71.50 245.54,71.04 247.90,71.04 247.90,71.01 249.40,71.01 249.40,70.75 252.69,70.75 252.69,70.73 255.41,70.73 255.41,71.62 257.55,71.62 257.55,71.42 260.28,71.42 260.28,72.26 262.17,72.26 262.17,72.14 264.59,72.14 264.59,71.83 266.99,71.83 266.99,72.88 270.01,72.88 270.01,72.67 272.45,72.67 272.45,73.14 274.71,73.14 274.71,73.26 277.63,73.26 277.63,73.95 280.13,73.95 280.13,74.20 282.90,74.20 282.90,74.72 284.87,74.72 284.87,74.64 287.54,74.64 287.54,75.31 289.86,75.31 289.86,75.45 291.84,75.45 291.84,75.50 295.12,75.50 295.12,76.06 298.40,76.06 298.40,76.97 301.61,76.97 301.61,77.30 303.41,77.30 303.41,77.19 306.60,77.19 306.60,78.55 308.56,78.55 308.56,78.03 310.66,78.03 310.66,78.93 312.11,78.93 312.11,79.37 314.74,79.37 314.74,78.74 318.10,78.74 318.10,79.77 319.58,79.77 319.58,80.20 322.54,80.20 322.54,80.08 325.20,80.08 325.20,81.15 327.66,81.15 327.66,81.21 330.30,81.21 330.30,81.80 333.56,81.80 333.56,81.53 335.31,81.53 335.31,82.42 338.42,82.42 338.42,82.85 341.68,82.85 341.68,83.01 344.00,83.01" fill="none" stroke="#3a48c0" stroke-width="1.45" stroke-linejoin="round" />
<polyline points="199.00,119.68 199.80,119.68 199.80,111.13 200.60,111.13 200.60,103.81 201.40,103.81 201.40,99.58 202.20,99.58 202.20,96.27 203.00,96.27 203.00,92.18 203.80,92.18 203.80,88.23 204.60,88.23 204.60,86.12 205.40,86.12 205.40,84.59 206.20,84.59 206.20,84.29 207.00,84.29 207.00,82.88 208.85,82.88 208.85,80.91 211.12,80.91 211.12,77.57 213.73,77.57 213.73,76.22 215.70,76.22 215.70,75.05 218.81,75.05 218.81,72.69 221.80,72.69 221.80,71.11 224.67,71.11 224.67,70.00 227.63,70.00 227.63,70.09 230.70,70.09 230.70,69.15 233.59,69.15 233.59,68.41 235.86,68.41 235.86,68.13 238.12,68.13 238.12,67.67 239.79,67.67 239.79,66.83 242.76,66.83 242.76,66.46 245.53,66.46 245.53,66.75 248.40,66.75 248.40,67.02 251.14,67.02 251.14,66.51 252.92,66.51 252.92,66.66 255.37,66.66 255.37,66.77 257.69,66.77 257.69,66.62 259.89,66.62 259.89,67.37 262.27,67.37 262.27,67.49 264.16,67.49 264.16,67.73 266.31,67.73 266.31,68.08 269.00,68.08 269.00,67.38 271.19,67.38 271.19,67.86 274.42,67.86 274.42,68.69 276.13,68.69 276.13,67.89 279.18,67.89 279.18,68.14 280.93,68.14 280.93,68.42 284.03,68.42 284.03,67.96 287.01,67.96 287.01,68.77 290.09,68.77 290.09,68.75 292.91,68.75 292.91,69.66 296.21,69.66 296.21,69.92 299.04,69.92 299.04,71.01 301.67,71.01 301.67,71.21 304.24,71.21 304.24,72.05 307.08,72.05 307.08,72.73 309.09,72.73 309.09,73.35 311.84,73.35 311.84,73.97 313.71,73.97 313.71,74.39 316.39,74.39 316.39,74.40 318.87,74.40 318.87,75.47 321.16,75.47 321.16,75.59 322.77,75.59 322.77,76.30 326.13,76.30 326.13,76.84 328.15,76.84 328.15,77.04 330.73,77.04 330.73,77.72 333.08,77.72 333.08,77.83 336.12,77.83 336.12,78.78 338.20,78.78 338.20,78.62 341.50,78.62 341.50,79.20 343.85,79.20 343.85,79.46 344.00,79.46" fill="none" stroke="#8fb0ea" stroke-width="1.45" stroke-linejoin="round" />
<polyline points="199.00,121.68 199.80,121.68 199.80,106.88 200.60,106.88 200.60,94.76 201.40,94.76 201.40,90.80 202.20,90.80 202.20,87.90 203.00,87.90 203.00,84.28 203.80,84.28 203.80,80.12 204.60,80.12 204.60,78.43 205.40,78.43 205.40,78.03 206.20,78.03 206.20,76.82 207.00,76.82 207.00,76.35 209.93,76.35 209.93,73.75 211.80,73.75 211.80,71.04 213.93,71.04 213.93,70.62 216.91,70.62 216.91,69.17 218.64,69.17 218.64,68.65 221.36,68.65 221.36,68.13 224.05,68.13 224.05,67.32 226.13,67.32 226.13,66.77 227.97,66.77 227.97,65.28 230.18,65.28 230.18,64.64 232.46,64.64 232.46,64.42 235.58,64.42 235.58,63.46 237.23,63.46 237.23,63.10 239.89,63.10 239.89,62.97 241.51,62.97 241.51,62.17 243.94,62.17 243.94,62.85 246.25,62.85 246.25,62.77 249.22,62.77 249.22,62.38 250.86,62.38 250.86,61.99 252.47,61.99 252.47,62.54 253.96,62.54 253.96,62.08 255.62,62.08 255.62,62.52 257.24,62.52 257.24,62.76 260.00,62.76 260.00,63.04 262.31,63.04 262.31,63.37 264.59,63.37 264.59,63.53 266.21,63.53 266.21,63.86 268.10,63.86 268.10,63.66 271.35,63.66 271.35,64.93 273.06,64.93 273.06,64.40 275.60,64.40 275.60,65.41 278.39,65.41 278.39,64.68 280.64,64.68 280.64,65.56 283.18,65.56 283.18,65.17 285.12,65.17 285.12,66.06 286.93,66.06 286.93,65.89 289.27,65.89 289.27,66.53 291.45,66.53 291.45,67.18 293.49,67.18 293.49,66.55 296.06,66.55 296.06,67.84 299.29,67.84 299.29,68.41 301.22,68.41 301.22,69.16 302.94,69.16 302.94,69.32 304.82,69.32 304.82,68.96 306.77,68.96 306.77,70.04 309.37,70.04 309.37,69.83 311.37,69.83 311.37,70.41 313.51,70.41 313.51,71.06 316.10,71.06 316.10,71.17 318.99,71.17 318.99,72.23 322.05,72.23 322.05,73.00 324.23,73.00 324.23,72.79 326.71,72.79 326.71,73.51 328.76,73.51 328.76,73.78 331.37,73.78 331.37,75.07 334.61,75.07 334.61,75.52 336.70,75.52 336.70,76.19 338.34,76.19 338.34,76.60 341.11,76.60 341.11,77.26 343.04,77.26 343.04,77.33 344.00,77.33" fill="none" stroke="#8a8ed8" stroke-width="1.45" stroke-linejoin="round" />
<polyline points="199.00,117.08 199.80,117.08 199.80,110.04 200.60,110.04 200.60,102.17 201.40,102.17 201.40,100.11 202.20,100.11 202.20,96.51 203.00,96.51 203.00,95.24 203.80,95.24 203.80,92.36 204.60,92.36 204.60,90.66 205.40,90.66 205.40,88.54 206.20,88.54 206.20,86.46 207.00,86.46 207.00,85.37 209.09,85.37 209.09,79.83 211.07,79.83 211.07,76.55 212.95,76.55 212.95,73.62 216.07,73.62 216.07,69.92 217.93,69.92 217.93,67.52 220.36,67.52 220.36,66.14 222.67,66.14 222.67,64.16 224.26,64.16 224.26,62.77 226.39,62.77 226.39,61.13 229.62,61.13 229.62,59.92 231.84,59.92 231.84,59.09 235.19,59.09 235.19,58.60 238.44,58.60 238.44,58.25 240.15,58.25 240.15,57.91 243.39,57.91 243.39,57.46 246.21,57.46 246.21,58.02 248.60,58.02 248.60,57.45 250.24,57.45 250.24,58.36 251.77,58.36 251.77,58.03 254.82,58.03 254.82,58.19 257.03,58.19 257.03,58.54 258.82,58.54 258.82,58.28 260.94,58.28 260.94,59.34 262.97,59.34 262.97,58.96 265.02,58.96 265.02,59.14 267.11,59.14 267.11,59.93 268.69,59.93 268.69,59.62 271.66,59.62 271.66,60.49 273.32,60.49 273.32,60.74 275.48,60.74 275.48,60.71 278.71,60.71 278.71,61.34 280.70,61.34 280.70,62.43 283.85,62.43 283.85,61.95 285.60,61.95 285.60,62.72 287.96,62.72 287.96,62.58 289.48,62.58 289.48,63.83 292.54,63.83 292.54,63.91 294.87,63.91 294.87,64.18 297.45,64.18 297.45,64.82 299.38,64.82 299.38,65.90 300.84,65.90 300.84,65.93 303.52,65.93 303.52,66.45 305.63,66.45 305.63,66.64 308.42,66.64 308.42,67.25 310.46,67.25 310.46,67.41 313.44,67.41 313.44,67.94 316.59,67.94 316.59,69.54 319.32,69.54 319.32,69.72 321.50,69.72 321.50,69.98 323.22,69.98 323.22,70.62 326.55,70.62 326.55,71.22 329.75,71.22 329.75,71.58 331.79,71.58 331.79,72.46 334.39,72.46 334.39,72.64 336.49,72.64 336.49,73.83 338.26,73.83 338.26,73.36 341.10,73.36 341.10,74.85 344.00,74.85" fill="none" stroke="#c9b62c" stroke-width="1.45" stroke-linejoin="round" />
<polyline points="199.00,115.91 199.80,115.91 199.80,107.69 200.60,107.69 200.60,100.53 201.40,100.53 201.40,96.96 202.20,96.96 202.20,94.05 203.00,94.05 203.00,91.79 203.80,91.79 203.80,90.24 204.60,90.24 204.60,87.84 205.40,87.84 205.40,86.54 206.20,86.54 206.20,84.24 207.00,84.24 207.00,82.21 208.71,82.21 208.71,77.51 210.75,77.51 210.75,73.10 214.02,73.10 214.02,70.02 217.18,70.02 217.18,65.88 219.90,65.88 219.90,64.18 222.22,64.18 222.22,61.79 224.23,61.79 224.23,60.73 226.26,60.73 226.26,59.18 229.21,59.18 229.21,58.01 231.47,58.01 231.47,57.12 234.73,57.12 234.73,56.68 236.25,56.68 236.25,55.55 239.29,55.55 239.29,54.99 241.74,54.99 241.74,55.67 243.47,55.67 243.47,55.64 245.80,55.64 245.80,55.96 248.58,55.96 248.58,55.30 250.04,55.30 250.04,55.22 252.43,55.22 252.43,55.19 254.78,55.19 254.78,55.54 257.09,55.54 257.09,56.04 259.49,56.04 259.49,57.01 261.21,57.01 261.21,57.00 263.43,57.00 263.43,57.14 265.90,57.14 265.90,57.15 268.11,57.15 268.11,57.81 270.53,57.81 270.53,57.43 273.48,57.43 273.48,58.23 276.48,58.23 276.48,59.21 278.12,59.21 278.12,59.64 279.79,59.64 279.79,60.02 282.43,60.02 282.43,59.48 284.09,59.48 284.09,60.02 287.34,60.02 287.34,60.49 289.07,60.49 289.07,60.93 291.00,60.93 291.00,61.85 292.46,61.85 292.46,61.80 295.67,61.80 295.67,63.01 297.39,63.01 297.39,63.10 298.90,63.10 298.90,63.37 301.75,63.37 301.75,64.03 303.26,64.03 303.26,64.86 305.08,64.86 305.08,64.58 308.30,64.58 308.30,65.49 309.94,65.49 309.94,66.14 312.17,66.14 312.17,66.71 313.84,66.71 313.84,66.69 316.89,66.69 316.89,67.52 320.03,67.52 320.03,67.45 322.30,67.45 322.30,68.63 324.09,68.63 324.09,68.50 327.12,68.50 327.12,68.92 328.96,68.92 328.96,69.78 330.44,69.78 330.44,70.23 332.45,70.23 332.45,70.86 334.03,70.86 334.03,70.24 336.06,70.24 336.06,71.21 338.52,71.21 338.52,71.76 341.09,71.76 341.09,72.28 343.48,72.28 343.48,73.25 344.00,73.25" fill="none" stroke="#6aa84f" stroke-width="1.45" stroke-linejoin="round" />
<polyline points="199.00,113.90 199.80,113.90 199.80,105.50 200.60,105.50 200.60,98.01 201.40,98.01 201.40,94.70 202.20,94.70 202.20,90.93 203.00,90.93 203.00,89.06 203.80,89.06 203.80,87.18 204.60,87.18 204.60,85.85 205.40,85.85 205.40,84.01 206.20,84.01 206.20,81.68 207.00,81.68 207.00,79.35 208.92,79.35 208.92,74.97 210.97,74.97 210.97,70.61 214.23,70.61 214.23,67.52 217.59,67.52 217.59,64.21 220.59,64.21 220.59,60.90 222.32,60.90 222.32,59.95 224.83,59.95 224.83,58.02 226.67,58.02 226.67,57.26 229.81,57.26 229.81,56.35 231.84,56.35 231.84,56.50 235.08,56.50 235.08,55.35 238.44,55.35 238.44,54.97 241.44,54.97 241.44,54.14 244.64,54.14 244.64,55.14 246.80,55.14 246.80,55.18 249.68,55.18 249.68,54.96 252.96,54.96 252.96,55.07 255.89,55.07 255.89,54.80 257.79,54.80 257.79,55.33 261.07,55.33 261.07,55.69 263.20,55.69 263.20,56.19 266.15,56.19 266.15,56.57 268.75,56.57 268.75,56.44 271.25,56.44 271.25,57.16 273.95,57.16 273.95,56.62 276.01,56.62 276.01,57.51 279.19,57.51 279.19,57.62 281.16,57.62 281.16,58.49 284.04,58.49 284.04,58.47 286.38,58.47 286.38,58.83 289.03,58.83 289.03,58.65 291.07,58.65 291.07,59.73 294.40,59.73 294.40,59.49 295.88,59.49 295.88,60.17 298.64,60.17 298.64,60.90 301.49,60.90 301.49,60.87 304.06,60.87 304.06,62.01 305.87,62.01 305.87,62.53 307.60,62.53 307.60,63.04 309.45,63.04 309.45,62.61 311.92,62.61 311.92,63.15 315.13,63.15 315.13,63.79 316.66,63.79 316.66,63.97 318.28,63.97 318.28,64.47 321.33,64.47 321.33,65.21 323.55,65.21 323.55,66.30 325.15,66.30 325.15,66.01 327.06,66.01 327.06,66.48 329.01,66.48 329.01,67.24 331.01,67.24 331.01,66.99 333.39,66.99 333.39,67.79 335.76,67.79 335.76,68.04 338.19,68.04 338.19,68.60 341.49,68.60 341.49,68.87 343.37,68.87 343.37,69.68 344.00,69.68" fill="none" stroke="#55655c" stroke-width="1.45" stroke-linejoin="round" />
<polyline points="199.00,69.40 199.80,69.40 199.80,67.50 200.60,67.50 200.60,66.48 201.40,66.48 201.40,65.48 202.20,65.48 202.20,64.08 203.00,64.08 203.00,62.99 203.80,62.99 203.80,61.93 204.60,61.93 204.60,61.26 205.40,61.26 205.40,60.98 206.20,60.98 206.20,60.50 207.00,60.50 207.00,59.53 209.06,59.53 209.06,58.28 212.01,58.28 212.01,56.25 215.27,56.25 215.27,55.86 217.16,55.86 217.16,54.75 219.71,54.75 219.71,54.58 222.45,54.58 222.45,53.03 225.49,53.03 225.49,53.12 227.51,53.12 227.51,52.96 230.82,52.96 230.82,52.10 233.66,52.10 233.66,51.21 236.24,51.21 236.24,50.73 239.26,50.73 239.26,50.07 241.28,50.07 241.28,50.74 243.64,50.74 243.64,50.00 245.36,50.00 245.36,50.37 248.01,50.37 248.01,51.12 249.85,51.12 249.85,50.87 252.13,50.87 252.13,51.58 254.49,51.58 254.49,52.34 257.28,52.34 257.28,52.31 259.75,52.31 259.75,53.02 262.75,53.02 262.75,53.02 265.23,53.02 265.23,54.28 266.96,54.28 266.96,54.52 268.55,54.52 268.55,54.25 271.03,54.25 271.03,55.19 274.22,55.19 274.22,55.41 277.18,55.41 277.18,55.86 279.93,55.86 279.93,56.79 283.26,56.79 283.26,57.96 286.02,57.96 286.02,57.75 288.38,57.75 288.38,58.35 290.17,58.35 290.17,59.18 292.13,59.18 292.13,59.59 294.92,59.59 294.92,60.44 297.01,60.44 297.01,60.09 299.03,60.09 299.03,61.29 302.37,61.29 302.37,61.51 303.85,61.51 303.85,61.77 305.57,61.77 305.57,62.57 308.43,62.57 308.43,62.61 310.69,62.61 310.69,63.22 313.20,63.22 313.20,63.78 314.83,63.78 314.83,63.77 317.75,63.77 317.75,64.75 319.97,64.75 319.97,64.99 322.31,64.99 322.31,65.68 325.44,65.68 325.44,65.77 327.17,65.77 327.17,66.92 330.11,66.92 330.11,66.66 332.95,66.66 332.95,67.96 334.51,67.96 334.51,67.69 337.73,67.69 337.73,68.41 340.59,68.41 340.59,68.76 343.03,68.76 343.03,69.30 344.00,69.30" fill="none" stroke="#2f7a3e" stroke-width="1.45" stroke-linejoin="round" />
<polyline points="199.00,55.09 199.80,55.09 199.80,52.29 200.60,52.29 200.60,50.20 201.40,50.20 201.40,48.54 202.20,48.54 202.20,46.23 203.00,46.23 203.00,45.77 203.80,45.77 203.80,44.77 204.60,44.77 204.60,43.52 205.40,43.52 205.40,42.93 206.20,42.93 206.20,41.53 207.00,41.53 207.00,41.68 209.25,41.68 209.25,40.14 211.11,40.14 211.11,38.59 213.26,38.59 213.26,38.35 216.01,38.35 216.01,37.59 218.72,37.59 218.72,35.71 220.81,35.71 220.81,35.04 223.27,35.04 223.27,34.67 225.61,34.67 225.61,34.75 227.57,34.75 227.57,35.03 229.40,35.03 229.40,33.32 231.86,33.32 231.86,33.74 235.03,33.74 235.03,33.31 238.35,33.31 238.35,33.80 240.20,33.80 240.20,33.35 241.95,33.35 241.95,33.89 244.53,33.89 244.53,34.41 247.79,34.41 247.79,35.98 249.30,35.98 249.30,37.42 251.65,37.42 251.65,36.85 253.24,36.85 253.24,37.76 254.85,37.76 254.85,38.26 256.30,38.26 256.30,38.54 258.74,38.54 258.74,39.24 261.69,39.24 261.69,40.04 263.54,40.04 263.54,40.09 265.76,40.09 265.76,39.76 267.88,39.76 267.88,40.25 271.09,40.25 271.09,41.67 274.18,41.67 274.18,41.29 277.06,41.29 277.06,41.52 279.28,41.52 279.28,42.45 281.00,42.45 281.00,42.49 282.78,42.49 282.78,42.70 284.62,42.70 284.62,42.34 287.54,42.34 287.54,42.39 290.60,42.39 290.60,43.80 293.62,43.80 293.62,41.57 295.20,41.57 295.20,39.94 297.76,39.94 297.76,40.42 299.62,40.42 299.62,41.10 302.64,41.10 302.64,43.18 304.87,43.18 304.87,44.46 306.49,44.46 306.49,44.55 309.70,44.55 309.70,45.59 311.91,45.59 311.91,46.55 313.95,46.55 313.95,46.76 316.64,46.76 316.64,47.81 319.76,47.81 319.76,47.73 321.62,47.73 321.62,47.91 324.35,47.91 324.35,49.11 326.36,49.11 326.36,48.62 327.96,48.62 327.96,49.28 331.25,49.28 331.25,49.95 333.65,49.95 333.65,49.26 336.77,49.26 336.77,49.64 339.24,49.64 339.24,49.60 341.17,49.60 341.17,49.80 343.40,49.80 343.40,50.28 344.00,50.28" fill="none" stroke="#2e2e2e" stroke-width="1.5" stroke-linejoin="round" />
<rect x="199.0" y="31.5" width="145.0" height="109.9" fill="none" stroke="#333" stroke-width="1"/>
<line x1="196.80" y1="141.40" x2="199.00" y2="141.40" stroke="#333" stroke-width="0.8" />
<text x="196.0" y="144.3" font-family='"Liberation Sans", sans-serif' font-size="8.2" fill="#333" text-anchor="end" font-weight="normal" style="">93</text>
<line x1="197.80" y1="132.24" x2="199.00" y2="132.24" stroke="#333" stroke-width="0.6" />
<line x1="196.80" y1="123.08" x2="199.00" y2="123.08" stroke="#333" stroke-width="0.8" />
<text x="196.0" y="125.98333333333335" font-family='"Liberation Sans", sans-serif' font-size="8.2" fill="#333" text-anchor="end" font-weight="normal" style="">94</text>
<line x1="197.80" y1="113.92" x2="199.00" y2="113.92" stroke="#333" stroke-width="0.6" />
<line x1="196.80" y1="104.77" x2="199.00" y2="104.77" stroke="#333" stroke-width="0.8" />
<text x="196.0" y="107.66666666666669" font-family='"Liberation Sans", sans-serif' font-size="8.2" fill="#333" text-anchor="end" font-weight="normal" style="">95</text>
<line x1="197.80" y1="95.61" x2="199.00" y2="95.61" stroke="#333" stroke-width="0.6" />
<line x1="196.80" y1="86.45" x2="199.00" y2="86.45" stroke="#333" stroke-width="0.8" />
<text x="196.0" y="89.35" font-family='"Liberation Sans", sans-serif' font-size="8.2" fill="#333" text-anchor="end" font-weight="normal" style="">96</text>
<line x1="197.80" y1="77.29" x2="199.00" y2="77.29" stroke="#333" stroke-width="0.6" />
<line x1="196.80" y1="68.13" x2="199.00" y2="68.13" stroke="#333" stroke-width="0.8" />
<text x="196.0" y="71.03333333333335" font-family='"Liberation Sans", sans-serif' font-size="8.2" fill="#333" text-anchor="end" font-weight="normal" style="">97</text>
<line x1="197.80" y1="58.98" x2="199.00" y2="58.98" stroke="#333" stroke-width="0.6" />
<line x1="196.80" y1="49.82" x2="199.00" y2="49.82" stroke="#333" stroke-width="0.8" />
<text x="196.0" y="52.716666666666676" font-family='"Liberation Sans", sans-serif' font-size="8.2" fill="#333" text-anchor="end" font-weight="normal" style="">98</text>
<line x1="197.80" y1="40.66" x2="199.00" y2="40.66" stroke="#333" stroke-width="0.6" />
<line x1="196.80" y1="31.50" x2="199.00" y2="31.50" stroke="#333" stroke-width="0.8" />
<text x="196.0" y="34.399999999999984" font-family='"Liberation Sans", sans-serif' font-size="8.2" fill="#333" text-anchor="end" font-weight="normal" style="">99</text>
<line x1="199.00" y1="141.40" x2="199.00" y2="143.60" stroke="#333" stroke-width="0.8" />
<text x="199.0" y="151.5" font-family='"Liberation Sans", sans-serif' font-size="8.2" fill="#333" text-anchor="middle" font-weight="normal" style="">400</text>
<line x1="217.12" y1="141.40" x2="217.12" y2="143.60" stroke="#333" stroke-width="0.8" />
<text x="217.125" y="151.5" font-family='"Liberation Sans", sans-serif' font-size="8.2" fill="#333" text-anchor="middle" font-weight="normal" style="">450</text>
<line x1="235.25" y1="141.40" x2="235.25" y2="143.60" stroke="#333" stroke-width="0.8" />
<text x="235.25" y="151.5" font-family='"Liberation Sans", sans-serif' font-size="8.2" fill="#333" text-anchor="middle" font-weight="normal" style="">500</text>
<line x1="253.38" y1="141.40" x2="253.38" y2="143.60" stroke="#333" stroke-width="0.8" />
<text x="253.375" y="151.5" font-family='"Liberation Sans", sans-serif' font-size="8.2" fill="#333" text-anchor="middle" font-weight="normal" style="">550</text>
<line x1="271.50" y1="141.40" x2="271.50" y2="143.60" stroke="#333" stroke-width="0.8" />
<text x="271.5" y="151.5" font-family='"Liberation Sans", sans-serif' font-size="8.2" fill="#333" text-anchor="middle" font-weight="normal" style="">600</text>
<line x1="289.62" y1="141.40" x2="289.62" y2="143.60" stroke="#333" stroke-width="0.8" />
<text x="289.625" y="151.5" font-family='"Liberation Sans", sans-serif' font-size="8.2" fill="#333" text-anchor="middle" font-weight="normal" style="">650</text>
<line x1="307.75" y1="141.40" x2="307.75" y2="143.60" stroke="#333" stroke-width="0.8" />
<text x="307.75" y="151.5" font-family='"Liberation Sans", sans-serif' font-size="8.2" fill="#333" text-anchor="middle" font-weight="normal" style="">700</text>
<line x1="325.88" y1="141.40" x2="325.88" y2="143.60" stroke="#333" stroke-width="0.8" />
<text x="325.875" y="151.5" font-family='"Liberation Sans", sans-serif' font-size="8.2" fill="#333" text-anchor="middle" font-weight="normal" style="">750</text>
<line x1="344.00" y1="141.40" x2="344.00" y2="143.60" stroke="#333" stroke-width="0.8" />
<text x="344.0" y="151.5" font-family='"Liberation Sans", sans-serif' font-size="8.2" fill="#333" text-anchor="middle" font-weight="normal" style="">800</text>
<text x="271.3" y="163.6" font-family='"Liberation Sans", sans-serif' font-size="9.8" fill="#222" text-anchor="middle" font-weight="bold" textLength="66.5" lengthAdjust="spacingAndGlyphs" style="">Wavelength (nm)</text>
<text x="186.3" y="87.5" font-family='"Liberation Sans", sans-serif' font-size="8.4" fill="#222" text-anchor="middle" font-weight="bold" textLength="75" lengthAdjust="spacingAndGlyphs" transform="rotate(-90 186.3 87.5)" style="">Transmittance (%)</text>
<line x1="214.30" y1="113.50" x2="226.60" y2="113.50" stroke="#2e2e2e" stroke-width="1.4" />
<text x="228.6" y="115.8" font-family='"Liberation Sans", sans-serif' font-size="6.3" fill="#333" text-anchor="start" font-weight="normal" textLength="16.04" lengthAdjust="spacingAndGlyphs" style="">AgNW</text>
<line x1="214.30" y1="120.30" x2="226.60" y2="120.30" stroke="#55655c" stroke-width="1.4" />
<text x="228.6" y="122.6" font-family='"Liberation Sans", sans-serif' font-size="6.3" fill="#333" text-anchor="start" font-weight="normal" textLength="35.37" lengthAdjust="spacingAndGlyphs" style="">AgNW-MXene</text>
<line x1="214.30" y1="127.00" x2="226.60" y2="127.00" stroke="#9a92d0" stroke-width="1.4" />
<text x="228.6" y="129.3" font-family='"Liberation Sans", sans-serif' font-size="6.3" fill="#333" text-anchor="start" font-weight="normal" textLength="32.28" lengthAdjust="spacingAndGlyphs" style="">AgNW-MP41</text>
<line x1="214.30" y1="134.00" x2="226.60" y2="134.00" stroke="#c9503a" stroke-width="1.4" />
<text x="228.6" y="136.3" font-family='"Liberation Sans", sans-serif' font-size="6.3" fill="#333" text-anchor="start" font-weight="normal" textLength="32.28" lengthAdjust="spacingAndGlyphs" style="">AgNW-MP21</text>
<line x1="276.80" y1="113.50" x2="290.50" y2="113.50" stroke="#c9b62c" stroke-width="1.4" />
<text x="291.8" y="115.8" font-family='"Liberation Sans", sans-serif' font-size="6.3" fill="#333" text-anchor="start" font-weight="normal" textLength="31.87" lengthAdjust="spacingAndGlyphs" style="">AgNW-MP11</text>
<line x1="276.80" y1="120.30" x2="290.50" y2="120.30" stroke="#7f8fe0" stroke-width="1.4" />
<text x="291.8" y="122.6" font-family='"Liberation Sans", sans-serif' font-size="6.3" fill="#333" text-anchor="start" font-weight="normal" textLength="32.28" lengthAdjust="spacingAndGlyphs" style="">AgNW-MP12</text>
<line x1="276.80" y1="127.00" x2="290.50" y2="127.00" stroke="#2f6b3a" stroke-width="1.4" />
<text x="291.8" y="129.3" font-family='"Liberation Sans", sans-serif' font-size="6.3" fill="#333" text-anchor="start" font-weight="normal" textLength="32.28" lengthAdjust="spacingAndGlyphs" style="">AgNW-MP14</text>
<line x1="276.80" y1="134.00" x2="290.50" y2="134.00" stroke="#2b3aa0" stroke-width="1.4" />
<text x="291.8" y="136.3" font-family='"Liberation Sans", sans-serif' font-size="6.3" fill="#333" text-anchor="start" font-weight="normal" textLength="48.93" lengthAdjust="spacingAndGlyphs" style="">AgNW-PEDOT:PSS</text>
<text x="360.8" y="19.3" font-family='"Liberation Serif", serif' font-size="14" fill="#2a2a2a" text-anchor="start" font-weight="normal" style="">d</text>
<polyline points="396.69,105.59 403.16,110.56 416.30,92.71 438.50,62.55 444.42,78.07 459.03,60.80 471.61,83.34 486.60,78.65 498.07,97.39" fill="none" stroke="#dcc070" stroke-width="1.0" stroke-linejoin="round" />
<polyline points="396.69,113.78 414.63,79.83 436.83,65.77 444.42,78.07 459.03,99.73 474.02,107.64 488.63,102.37 492.33,107.64 495.85,121.10 524.15,129.30 526.38,130.18" fill="none" stroke="#80c068" stroke-width="1.0" stroke-linejoin="round" />
<polyline points="406.68,138.96 414.45,134.28 416.30,124.03 418.33,112.03 416.30,92.71 438.50,62.55" fill="none" stroke="#e08a8a" stroke-width="1.0" stroke-linejoin="round" />
<polyline points="402.98,128.13 408.71,122.13 414.63,115.25 418.15,105.59 419.26,86.56 431.47,67.53" fill="none" stroke="#9a88cc" stroke-width="1.0" stroke-linejoin="round" />
<polyline points="397.25,136.33 400.39,130.18 404.27,122.13 407.05,116.71 410.56,107.93 414.63,87.73 431.47,67.53" fill="none" stroke="#4a4ab8" stroke-width="1.0" stroke-linejoin="round" />
<polygon points="396.69,107.39 398.39,104.39 394.99,104.39" fill="#c8a02a"/>
<polygon points="403.16,112.36 404.86,109.36 401.46,109.36" fill="#c8a02a"/>
<polygon points="416.30,94.51 418.00,91.51 414.60,91.51" fill="#c8a02a"/>
<polygon points="438.50,64.35 440.20,61.35 436.80,61.35" fill="#c8a02a"/>
<polygon points="444.42,79.87 446.12,76.87 442.72,76.87" fill="#c8a02a"/>
<polygon points="459.03,62.60 460.73,59.60 457.33,59.60" fill="#c8a02a"/>
<polygon points="471.61,85.14 473.31,82.14 469.91,82.14" fill="#c8a02a"/>
<polygon points="486.60,80.45 488.30,77.45 484.90,77.45" fill="#c8a02a"/>
<polygon points="498.07,99.19 499.77,96.19 496.37,96.19" fill="#c8a02a"/>
<circle cx="396.69" cy="113.78" r="1.70" fill="#4e8f22" stroke="#333" stroke-width="0.25"/>
<circle cx="414.63" cy="79.83" r="1.70" fill="#4e8f22" stroke="#333" stroke-width="0.25"/>
<circle cx="436.83" cy="65.77" r="1.70" fill="#4e8f22" stroke="#333" stroke-width="0.25"/>
<circle cx="444.42" cy="78.07" r="1.70" fill="#4e8f22" stroke="#333" stroke-width="0.25"/>
<circle cx="459.03" cy="99.73" r="1.70" fill="#4e8f22" stroke="#333" stroke-width="0.25"/>
<circle cx="474.02" cy="107.64" r="1.70" fill="#4e8f22" stroke="#333" stroke-width="0.25"/>
<circle cx="488.63" cy="102.37" r="1.70" fill="#4e8f22" stroke="#333" stroke-width="0.25"/>
<circle cx="492.33" cy="107.64" r="1.70" fill="#4e8f22" stroke="#333" stroke-width="0.25"/>
<circle cx="495.85" cy="121.10" r="1.70" fill="#4e8f22" stroke="#333" stroke-width="0.25"/>
<circle cx="524.15" cy="129.30" r="1.70" fill="#4e8f22" stroke="#333" stroke-width="0.25"/>
<circle cx="526.38" cy="130.18" r="1.70" fill="#4e8f22" stroke="#333" stroke-width="0.25"/>
<circle cx="406.68" cy="138.96" r="1.70" fill="#a8702a" stroke="#333" stroke-width="0.25"/>
<circle cx="414.45" cy="134.28" r="1.70" fill="#a8702a" stroke="#333" stroke-width="0.25"/>
<circle cx="416.30" cy="124.03" r="1.70" fill="#a8702a" stroke="#333" stroke-width="0.25"/>
<circle cx="418.33" cy="112.03" r="1.70" fill="#a8702a" stroke="#333" stroke-width="0.25"/>
<circle cx="416.30" cy="92.71" r="1.70" fill="#a8702a" stroke="#333" stroke-width="0.25"/>
<circle cx="438.50" cy="62.55" r="1.70" fill="#a8702a" stroke="#333" stroke-width="0.25"/>
<polygon points="402.98,126.33 404.68,129.33 401.28,129.33" fill="#5a3a90"/>
<polygon points="408.71,120.33 410.41,123.33 407.01,123.33" fill="#5a3a90"/>
<polygon points="414.63,113.45 416.33,116.45 412.94,116.45" fill="#5a3a90"/>
<polygon points="418.15,103.79 419.85,106.79 416.45,106.79" fill="#5a3a90"/>
<polygon points="419.26,84.76 420.96,87.76 417.56,87.76" fill="#5a3a90"/>
<polygon points="431.47,65.73 433.17,68.73 429.77,68.73" fill="#5a3a90"/>
<circle cx="397.25" cy="136.33" r="1.70" fill="#22229a" stroke="#333" stroke-width="0.25"/>
<circle cx="400.39" cy="130.18" r="1.70" fill="#22229a" stroke="#333" stroke-width="0.25"/>
<circle cx="404.27" cy="122.13" r="1.70" fill="#22229a" stroke="#333" stroke-width="0.25"/>
<circle cx="407.05" cy="116.71" r="1.70" fill="#22229a" stroke="#333" stroke-width="0.25"/>
<circle cx="410.56" cy="107.93" r="1.70" fill="#22229a" stroke="#333" stroke-width="0.25"/>
<circle cx="414.63" cy="87.73" r="1.70" fill="#22229a" stroke="#333" stroke-width="0.25"/>
<circle cx="431.47" cy="67.53" r="1.70" fill="#22229a" stroke="#333" stroke-width="0.25"/>
<polygon points="444.42,79.87 446.12,76.87 442.72,76.87" fill="#8a8a30"/>
<rect x="381.2" y="32.4" width="157.40000000000003" height="117.1" fill="none" stroke="#333" stroke-width="0.9"/>
<line x1="379.00" y1="149.50" x2="381.20" y2="149.50" stroke="#333" stroke-width="0.7" />
<text x="378.3" y="151.4" font-family='"Liberation Sans", sans-serif' font-size="5.2" fill="#444" text-anchor="end" font-weight="normal" style="">0</text>
<line x1="380.00" y1="142.18" x2="381.20" y2="142.18" stroke="#333" stroke-width="0.5" />
<line x1="379.00" y1="134.86" x2="381.20" y2="134.86" stroke="#333" stroke-width="0.7" />
<text x="378.3" y="136.76250000000002" font-family='"Liberation Sans", sans-serif' font-size="5.2" fill="#444" text-anchor="end" font-weight="normal" style="">5</text>
<line x1="380.00" y1="127.54" x2="381.20" y2="127.54" stroke="#333" stroke-width="0.5" />
<line x1="379.00" y1="120.22" x2="381.20" y2="120.22" stroke="#333" stroke-width="0.7" />
<text x="378.3" y="122.125" font-family='"Liberation Sans", sans-serif' font-size="5.2" fill="#444" text-anchor="end" font-weight="normal" style="">10</text>
<line x1="380.00" y1="112.91" x2="381.20" y2="112.91" stroke="#333" stroke-width="0.5" />
<line x1="379.00" y1="105.59" x2="381.20" y2="105.59" stroke="#333" stroke-width="0.7" />
<text x="378.3" y="107.48750000000001" font-family='"Liberation Sans", sans-serif' font-size="5.2" fill="#444" text-anchor="end" font-weight="normal" style="">15</text>
<line x1="380.00" y1="98.27" x2="381.20" y2="98.27" stroke="#333" stroke-width="0.5" />
<line x1="379.00" y1="90.95" x2="381.20" y2="90.95" stroke="#333" stroke-width="0.7" />
<text x="378.3" y="92.85000000000001" font-family='"Liberation Sans", sans-serif' font-size="5.2" fill="#444" text-anchor="end" font-weight="normal" style="">20</text>
<line x1="380.00" y1="83.63" x2="381.20" y2="83.63" stroke="#333" stroke-width="0.5" />
<line x1="379.00" y1="76.31" x2="381.20" y2="76.31" stroke="#333" stroke-width="0.7" />
<text x="378.3" y="78.2125" font-family='"Liberation Sans", sans-serif' font-size="5.2" fill="#444" text-anchor="end" font-weight="normal" style="">25</text>
<line x1="380.00" y1="68.99" x2="381.20" y2="68.99" stroke="#333" stroke-width="0.5" />
<line x1="379.00" y1="61.67" x2="381.20" y2="61.67" stroke="#333" stroke-width="0.7" />
<text x="378.3" y="63.574999999999996" font-family='"Liberation Sans", sans-serif' font-size="5.2" fill="#444" text-anchor="end" font-weight="normal" style="">30</text>
<line x1="380.00" y1="54.36" x2="381.20" y2="54.36" stroke="#333" stroke-width="0.5" />
<line x1="379.00" y1="47.04" x2="381.20" y2="47.04" stroke="#333" stroke-width="0.7" />
<text x="378.3" y="48.93749999999999" font-family='"Liberation Sans", sans-serif' font-size="5.2" fill="#444" text-anchor="end" font-weight="normal" style="">35</text>
<line x1="380.00" y1="39.72" x2="381.20" y2="39.72" stroke="#333" stroke-width="0.5" />
<line x1="379.00" y1="32.40" x2="381.20" y2="32.40" stroke="#333" stroke-width="0.7" />
<text x="378.3" y="34.300000000000004" font-family='"Liberation Sans", sans-serif' font-size="5.2" fill="#444" text-anchor="end" font-weight="normal" style="">40</text>
<line x1="390.40" y1="149.50" x2="390.40" y2="151.70" stroke="#333" stroke-width="0.7" />
<text x="390.4" y="158.2" font-family='"Liberation Sans", sans-serif' font-size="5.4" fill="#444" text-anchor="middle" font-weight="normal" style="">0</text>
<line x1="399.65" y1="149.50" x2="399.65" y2="150.70" stroke="#333" stroke-width="0.5" />
<line x1="408.90" y1="149.50" x2="408.90" y2="151.70" stroke="#333" stroke-width="0.7" />
<text x="408.9" y="158.2" font-family='"Liberation Sans", sans-serif' font-size="5.4" fill="#444" text-anchor="middle" font-weight="normal" style="">1</text>
<line x1="418.15" y1="149.50" x2="418.15" y2="150.70" stroke="#333" stroke-width="0.5" />
<line x1="427.40" y1="149.50" x2="427.40" y2="151.70" stroke="#333" stroke-width="0.7" />
<text x="427.4" y="158.2" font-family='"Liberation Sans", sans-serif' font-size="5.4" fill="#444" text-anchor="middle" font-weight="normal" style="">2</text>
<line x1="436.65" y1="149.50" x2="436.65" y2="150.70" stroke="#333" stroke-width="0.5" />
<line x1="445.90" y1="149.50" x2="445.90" y2="151.70" stroke="#333" stroke-width="0.7" />
<text x="445.9" y="158.2" font-family='"Liberation Sans", sans-serif' font-size="5.4" fill="#444" text-anchor="middle" font-weight="normal" style="">3</text>
<line x1="455.15" y1="149.50" x2="455.15" y2="150.70" stroke="#333" stroke-width="0.5" />
<line x1="464.40" y1="149.50" x2="464.40" y2="151.70" stroke="#333" stroke-width="0.7" />
<text x="464.4" y="158.2" font-family='"Liberation Sans", sans-serif' font-size="5.4" fill="#444" text-anchor="middle" font-weight="normal" style="">4</text>
<line x1="473.65" y1="149.50" x2="473.65" y2="150.70" stroke="#333" stroke-width="0.5" />
<line x1="482.90" y1="149.50" x2="482.90" y2="151.70" stroke="#333" stroke-width="0.7" />
<text x="482.9" y="158.2" font-family='"Liberation Sans", sans-serif' font-size="5.4" fill="#444" text-anchor="middle" font-weight="normal" style="">5</text>
<line x1="492.15" y1="149.50" x2="492.15" y2="150.70" stroke="#333" stroke-width="0.5" />
<line x1="501.40" y1="149.50" x2="501.40" y2="151.70" stroke="#333" stroke-width="0.7" />
<text x="501.4" y="158.2" font-family='"Liberation Sans", sans-serif' font-size="5.4" fill="#444" text-anchor="middle" font-weight="normal" style="">6</text>
<line x1="510.65" y1="149.50" x2="510.65" y2="150.70" stroke="#333" stroke-width="0.5" />
<line x1="519.90" y1="149.50" x2="519.90" y2="151.70" stroke="#333" stroke-width="0.7" />
<text x="519.9" y="158.2" font-family='"Liberation Sans", sans-serif' font-size="5.4" fill="#444" text-anchor="middle" font-weight="normal" style="">7</text>
<line x1="529.15" y1="149.50" x2="529.15" y2="150.70" stroke="#333" stroke-width="0.5" />
<line x1="538.40" y1="149.50" x2="538.40" y2="151.70" stroke="#333" stroke-width="0.7" />
<text x="538.4" y="158.2" font-family='"Liberation Sans", sans-serif' font-size="5.4" fill="#444" text-anchor="middle" font-weight="normal" style="">8</text>
<line x1="381.20" y1="149.50" x2="381.20" y2="151.70" stroke="#333" stroke-width="0.7" />
<text x="460.6" y="167.0" font-family='"Liberation Sans", sans-serif' font-size="6.5" fill="#333" text-anchor="middle" font-weight="normal" textLength="41" lengthAdjust="spacingAndGlyphs" style="">Thickness (μm)</text>
<text x="367.2" y="94.6" font-family='"Liberation Sans", sans-serif' font-size="6.0" fill="#333" text-anchor="middle" font-weight="normal" textLength="44" lengthAdjust="spacingAndGlyphs" transform="rotate(-90 367.2 94.6)" style="">Optical Contrast</text>
<polygon points="399.50,43.85 400.77,41.60 398.23,41.60" fill="#8a8a30"/>
<text x="406.5" y="44.4" font-family='"Liberation Sans", sans-serif' font-size="5.4" fill="#444" text-anchor="start" font-weight="normal" textLength="12" lengthAdjust="spacingAndGlyphs" style="">100%</text>
<line x1="420.10" y1="42.50" x2="431.10" y2="42.50" stroke="#e08a8a" stroke-width="0.6" />
<circle cx="425.60" cy="42.50" r="1.27" fill="#a8702a" stroke="#333" stroke-width="0.25"/>
<text x="432.9" y="44.4" font-family='"Liberation Sans", sans-serif' font-size="5.4" fill="#444" text-anchor="start" font-weight="normal" textLength="6.6" lengthAdjust="spacingAndGlyphs" style="">1%</text>
<line x1="440.50" y1="42.50" x2="451.50" y2="42.50" stroke="#9a88cc" stroke-width="0.6" />
<polygon points="446.00,41.15 447.27,43.40 444.73,43.40" fill="#5a3a90"/>
<text x="453.3" y="44.4" font-family='"Liberation Sans", sans-serif' font-size="5.4" fill="#444" text-anchor="start" font-weight="normal" textLength="7.2" lengthAdjust="spacingAndGlyphs" style="">5%</text>
<line x1="461.80" y1="42.50" x2="472.80" y2="42.50" stroke="#dcc070" stroke-width="0.6" />
<polygon points="467.30,43.85 468.57,41.60 466.03,41.60" fill="#c8a02a"/>
<text x="474.5" y="44.4" font-family='"Liberation Sans", sans-serif' font-size="5.4" fill="#444" text-anchor="start" font-weight="normal" textLength="9.5" lengthAdjust="spacingAndGlyphs" style="">10%</text>
<line x1="485.00" y1="42.50" x2="496.00" y2="42.50" stroke="#80c068" stroke-width="0.6" />
<circle cx="490.50" cy="42.50" r="1.27" fill="#4e8f22" stroke="#333" stroke-width="0.25"/>
<text x="498.5" y="44.4" font-family='"Liberation Sans", sans-serif' font-size="5.4" fill="#444" text-anchor="start" font-weight="normal" textLength="9.5" lengthAdjust="spacingAndGlyphs" style="">15%</text>
<line x1="509.00" y1="42.50" x2="520.00" y2="42.50" stroke="#4a4ab8" stroke-width="0.6" />
<circle cx="514.50" cy="42.50" r="1.27" fill="#22229a" stroke="#333" stroke-width="0.25"/>
<text x="521.8" y="44.4" font-family='"Liberation Sans", sans-serif' font-size="5.4" fill="#444" text-anchor="start" font-weight="normal" textLength="6.6" lengthAdjust="spacingAndGlyphs" style="">0%</text>
<text x="351.0" y="208.0" font-family='"Liberation Serif", serif' font-size="14.5" fill="#111" text-anchor="start" font-weight="normal" style="">e</text>
<rect x="387" y="245" width="11" height="22" fill="#fbe6f0"/>
<rect x="398" y="262" width="134" height="14" fill="#fdf0f6"/>
<rect x="412" y="290" width="40" height="9" fill="#eefaf2"/>
<polyline points="386.80,224.50 389.00,229.00 392.00,233.50 394.50,235.60 396.20,234.20 397.30,233.60 398.50,235.50 402.00,238.50 408.70,242.60 420.00,248.00 432.30,252.20 445.00,255.00 453.60,256.40 455.00,255.80 474.60,256.20 495.30,254.60 506.60,253.60 513.70,252.50 531.50,250.60" fill="none" stroke="#1f1f78" stroke-width="1.25" stroke-linejoin="round" />
<polyline points="397.30,262.00 397.30,249.30 400.00,251.50 404.00,253.50 408.70,255.20 409.90,255.80 409.90,258.60 420.00,262.60 432.30,266.40 445.00,268.60 453.60,269.60 453.60,271.40 465.00,271.60 474.60,270.60 494.20,266.80 512.00,260.60 531.50,255.20" fill="none" stroke="#9c5a36" stroke-width="1.25" stroke-linejoin="round" />
<polyline points="386.80,250.50 389.00,255.50 392.40,259.60 396.10,261.50 397.30,262.00" fill="none" stroke="#b04a8a" stroke-width="1.25" stroke-linejoin="round" />
<polyline points="386.80,256.50 389.00,260.50 392.40,264.60 396.10,265.40 397.20,264.00 398.50,266.50 401.30,270.30 409.40,272.50 420.00,274.80 445.00,279.20 453.60,280.40 453.60,278.20 474.60,276.80 506.60,272.90 531.50,268.20" fill="none" stroke="#7a3aa8" stroke-width="1.25" stroke-linejoin="round" />
<polyline points="386.80,262.40 389.00,268.00 391.70,273.30 396.50,275.00 397.50,271.20 402.80,275.70 409.40,278.70 410.90,280.40 420.00,282.50 445.00,287.50 453.60,289.00 453.60,285.80 474.60,285.30 497.80,281.70 513.70,280.20 531.50,277.20" fill="none" stroke="#2a2ab0" stroke-width="1.25" stroke-linejoin="round" />
<polyline points="409.40,286.80 420.00,288.60 440.00,291.00 455.00,292.60 474.60,287.60 496.00,280.50 515.50,270.50 531.50,267.60" fill="none" stroke="#2f6a2f" stroke-width="1.25" stroke-linejoin="round" />
<polyline points="386.80,268.50 389.40,281.50 392.00,284.80 395.40,286.80 397.60,280.10 402.80,285.30 408.70,287.50 420.00,289.20 440.00,291.60 455.00,293.60 474.60,292.30 497.80,287.10 515.50,281.70 531.50,279.00" fill="none" stroke="#1a1a1a" stroke-width="1.25" stroke-linejoin="round" />
<polyline points="386.80,270.50 388.50,279.00 390.90,285.30 394.60,287.50 397.30,285.80 399.80,290.50 405.00,293.00 409.40,294.60" fill="none" stroke="#2f6a2f" stroke-width="1.25" stroke-linejoin="round" />
<rect x="386.8" y="199.0" width="144.7" height="109.60000000000002" fill="none" stroke="#444" stroke-width="0.9"/>
<line x1="384.60" y1="308.60" x2="386.80" y2="308.60" stroke="#333" stroke-width="0.7" />
<text x="383.2" y="311.1" font-family='"Liberation Sans", sans-serif' font-size="7.2" fill="#333" text-anchor="end" font-weight="normal" style="">1.4</text>
<line x1="385.60" y1="294.90" x2="386.80" y2="294.90" stroke="#333" stroke-width="0.5" />
<line x1="384.60" y1="281.20" x2="386.80" y2="281.20" stroke="#333" stroke-width="0.7" />
<text x="383.2" y="283.7" font-family='"Liberation Sans", sans-serif' font-size="7.2" fill="#333" text-anchor="end" font-weight="normal" style="">1.6</text>
<line x1="385.60" y1="267.50" x2="386.80" y2="267.50" stroke="#333" stroke-width="0.5" />
<line x1="384.60" y1="253.80" x2="386.80" y2="253.80" stroke="#333" stroke-width="0.7" />
<text x="383.2" y="256.3" font-family='"Liberation Sans", sans-serif' font-size="7.2" fill="#333" text-anchor="end" font-weight="normal" style="">1.8</text>
<line x1="385.60" y1="240.10" x2="386.80" y2="240.10" stroke="#333" stroke-width="0.5" />
<line x1="384.60" y1="226.40" x2="386.80" y2="226.40" stroke="#333" stroke-width="0.7" />
<text x="383.2" y="228.9" font-family='"Liberation Sans", sans-serif' font-size="7.2" fill="#333" text-anchor="end" font-weight="normal" style="">2.0</text>
<line x1="385.60" y1="212.70" x2="386.80" y2="212.70" stroke="#333" stroke-width="0.5" />
<line x1="384.60" y1="199.00" x2="386.80" y2="199.00" stroke="#333" stroke-width="0.7" />
<text x="383.2" y="201.49999999999997" font-family='"Liberation Sans", sans-serif' font-size="7.2" fill="#333" text-anchor="end" font-weight="normal" style="">2.2</text>
<line x1="402.88" y1="308.60" x2="402.88" y2="310.80" stroke="#333" stroke-width="0.7" />
<text x="402.8777777777778" y="318.6" font-family='"Liberation Sans", sans-serif' font-size="7.2" fill="#333" text-anchor="middle" font-weight="normal" style="">400</text>
<line x1="418.96" y1="308.60" x2="418.96" y2="309.80" stroke="#333" stroke-width="0.5" />
<line x1="435.03" y1="308.60" x2="435.03" y2="310.80" stroke="#333" stroke-width="0.7" />
<text x="435.03333333333336" y="318.6" font-family='"Liberation Sans", sans-serif' font-size="7.2" fill="#333" text-anchor="middle" font-weight="normal" style="">500</text>
<line x1="451.11" y1="308.60" x2="451.11" y2="309.80" stroke="#333" stroke-width="0.5" />
<line x1="467.19" y1="308.60" x2="467.19" y2="310.80" stroke="#333" stroke-width="0.7" />
<text x="467.18888888888887" y="318.6" font-family='"Liberation Sans", sans-serif' font-size="7.2" fill="#333" text-anchor="middle" font-weight="normal" style="">600</text>
<line x1="483.27" y1="308.60" x2="483.27" y2="309.80" stroke="#333" stroke-width="0.5" />
<line x1="499.34" y1="308.60" x2="499.34" y2="310.80" stroke="#333" stroke-width="0.7" />
<text x="499.34444444444443" y="318.6" font-family='"Liberation Sans", sans-serif' font-size="7.2" fill="#333" text-anchor="middle" font-weight="normal" style="">700</text>
<line x1="515.42" y1="308.60" x2="515.42" y2="309.80" stroke="#333" stroke-width="0.5" />
<line x1="531.50" y1="308.60" x2="531.50" y2="310.80" stroke="#333" stroke-width="0.7" />
<text x="531.5" y="318.6" font-family='"Liberation Sans", sans-serif' font-size="7.2" fill="#333" text-anchor="middle" font-weight="normal" style="">800</text>
<text x="459.2" y="329.4" font-family='"Liberation Sans", sans-serif' font-size="7.2" fill="#333" text-anchor="middle" font-weight="normal" textLength="52" lengthAdjust="spacingAndGlyphs" style="">Wavelength (nm)</text>
<text x="369.8" y="257.8" font-family='"Liberation Sans", sans-serif' font-size="6.8" fill="#333" text-anchor="middle" font-weight="normal" textLength="51" lengthAdjust="spacingAndGlyphs" transform="rotate(-90 369.8 257.8)" style="">Refractive Index</text>
<text x="390.5" y="206.0" font-family='"Liberation Sans", sans-serif' font-size="5.2" fill="#333" text-anchor="start" font-weight="normal" style="">c</text>
<line x1="462.50" y1="207.70" x2="477.90" y2="207.70" stroke="#aaa" stroke-width="0.7" />
<circle cx="470.2" cy="207.70" r="0.9" fill="#1a1a1a"/>
<text x="479.7" y="210.29999999999998" font-family='"Liberation Sans", sans-serif' font-size="7.3" fill="#222" text-anchor="start" font-weight="normal" textLength="9.25" lengthAdjust="spacingAndGlyphs" style="">PP</text>
<line x1="462.50" y1="216.22" x2="477.90" y2="216.22" stroke="#aaa" stroke-width="0.7" />
<circle cx="470.2" cy="216.22" r="0.9" fill="#9c5a36"/>
<text x="479.7" y="218.82" font-family='"Liberation Sans", sans-serif' font-size="7.3" fill="#222" text-anchor="start" font-weight="normal" textLength="18.49" lengthAdjust="spacingAndGlyphs" style="">PEG2</text>
<line x1="462.50" y1="224.74" x2="477.90" y2="224.74" stroke="#aaa" stroke-width="0.7" />
<circle cx="470.2" cy="224.74" r="0.9" fill="#1f1f78"/>
<text x="479.7" y="227.33999999999997" font-family='"Liberation Sans", sans-serif' font-size="7.3" fill="#222" text-anchor="start" font-weight="normal" textLength="25.03" lengthAdjust="spacingAndGlyphs" style="">PEM2%</text>
<line x1="462.50" y1="233.26" x2="477.90" y2="233.26" stroke="#aaa" stroke-width="0.7" />
<circle cx="470.2" cy="233.26" r="0.9" fill="#7a3aa8"/>
<text x="479.7" y="235.85999999999999" font-family='"Liberation Sans", sans-serif' font-size="7.3" fill="#222" text-anchor="start" font-weight="normal" textLength="25.03" lengthAdjust="spacingAndGlyphs" style="">PEM4%</text>
<line x1="462.50" y1="241.78" x2="477.90" y2="241.78" stroke="#aaa" stroke-width="0.7" />
<circle cx="470.2" cy="241.78" r="0.9" fill="#2f6a2f"/>
<text x="479.7" y="244.37999999999997" font-family='"Liberation Sans", sans-serif' font-size="7.3" fill="#222" text-anchor="start" font-weight="normal" textLength="25.03" lengthAdjust="spacingAndGlyphs" style="">PEM8%</text>
<line x1="462.50" y1="250.30" x2="477.90" y2="250.30" stroke="#aaa" stroke-width="0.7" />
<circle cx="470.2" cy="250.30" r="0.9" fill="#555"/>
<text x="479.7" y="252.89999999999998" font-family='"Liberation Sans", sans-serif' font-size="7.3" fill="#222" text-anchor="start" font-weight="normal" textLength="28.89" lengthAdjust="spacingAndGlyphs" style="">PEM10%</text>
<text x="5.4" y="207.5" font-family='"Liberation Serif", serif' font-size="13.5" fill="#111" text-anchor="start" font-weight="normal" style="">b</text>
<defs>
<linearGradient id="tan1" x1="0" y1="0" x2="1" y2="1">
 <stop offset="0" stop-color="#c09088"/><stop offset="0.25" stop-color="#c8aa90"/><stop offset="0.7" stop-color="#cbb292"/><stop offset="1" stop-color="#c8a890"/></linearGradient>
<linearGradient id="cbar" x1="0" y1="0" x2="0" y2="1">
 <stop offset="0" stop-color="#f4ecd4"/><stop offset="0.1" stop-color="#eed8b8"/><stop offset="0.2" stop-color="#e8a8a0"/>
 <stop offset="0.3" stop-color="#d84860"/><stop offset="0.38" stop-color="#d02840"/><stop offset="0.46" stop-color="#e04830"/>
 <stop offset="0.52" stop-color="#e89020"/><stop offset="0.58" stop-color="#d8c020"/><stop offset="0.64" stop-color="#a8c030"/>
 <stop offset="0.7" stop-color="#40a030"/><stop offset="0.76" stop-color="#208a50"/><stop offset="0.82" stop-color="#1a7890"/>
 <stop offset="0.88" stop-color="#2070c0"/><stop offset="0.94" stop-color="#2848b0"/><stop offset="1" stop-color="#1a2a80"/></linearGradient>
<linearGradient id="plate" x1="0" y1="0" x2="1" y2="1">
 <stop offset="0" stop-color="#dcbaa8"/><stop offset="0.5" stop-color="#d2a694"/><stop offset="1" stop-color="#cca090"/></linearGradient>
</defs>
<rect x="24" y="201" width="80.5" height="28" fill="url(#tan1)"/>
<g transform="translate(0 214.55) skewX(-5) translate(0 -214.55)" fill="none" stroke-linecap="butt"><line x1="32.45" y1="206.70" x2="32.45" y2="222.40" stroke="#2a0e16" stroke-width="3.3"/><line x1="32.45" y1="208.35" x2="40.00" y2="208.35" stroke="#2a0e16" stroke-width="3.3"/><line x1="32.45" y1="220.75" x2="39.50" y2="220.75" stroke="#2a0e16" stroke-width="3.3"/><line x1="46.25" y1="206.70" x2="46.25" y2="222.40" stroke="#2a0e16" stroke-width="3.3"/><line x1="52.95" y1="206.70" x2="52.95" y2="222.40" stroke="#2a0e16" stroke-width="3.3"/><line x1="46.25" y1="213.55" x2="52.95" y2="213.55" stroke="#2a0e16" stroke-width="2.9699999999999998"/><line x1="63.15" y1="206.70" x2="63.15" y2="222.40" stroke="#2a0e16" stroke-width="4.299999999999997"/><line x1="72.95" y1="206.70" x2="72.95" y2="222.40" stroke="#2a0e16" stroke-width="3.3"/><line x1="81.95" y1="206.70" x2="81.95" y2="222.40" stroke="#2a0e16" stroke-width="3.3"/><line x1="72.95" y1="207.70" x2="81.95" y2="221.40" stroke="#2a0e16" stroke-width="3.465"/><polygon points="89.80,206.7 94.20,206.7 99.00,222.4 95.10,222.4 92.00,211.00 88.90,222.4 85.00,222.4" fill="#2a0e16"/><line x1="88.00" y1="217.20" x2="96.00" y2="217.20" stroke="#2a0e16" stroke-width="2.64"/></g>
<rect x="24.3" y="235.7" width="78.6" height="26.3" fill="#3a3290"/>
<rect x="26.6" y="238" width="74" height="21.8" fill="#f0ceb0"/>
<rect x="26.6" y="238" width="74" height="21.8" fill="none" stroke="#c8d890" stroke-width="0.8"/>
<rect x="40" y="238.4" width="16" height="21" fill="#f0c0a8"/>
<g transform="translate(0 248.64999999999998) skewX(-5) translate(0 -248.64999999999998)" fill="none" stroke-linecap="butt"><line x1="29.95" y1="239.90" x2="29.95" y2="257.40" stroke="#78a840" stroke-width="3.7"/><line x1="29.95" y1="241.75" x2="39.60" y2="241.75" stroke="#78a840" stroke-width="3.7"/><line x1="29.95" y1="255.55" x2="39.10" y2="255.55" stroke="#78a840" stroke-width="3.7"/><line x1="43.65" y1="239.90" x2="43.65" y2="257.40" stroke="#88a048" stroke-width="3.7"/><line x1="52.95" y1="239.90" x2="52.95" y2="257.40" stroke="#88a048" stroke-width="3.7"/><line x1="43.65" y1="247.65" x2="52.95" y2="247.65" stroke="#88a048" stroke-width="3.33"/><line x1="62.05" y1="239.90" x2="62.05" y2="257.40" stroke="#a09848" stroke-width="5.300000000000004"/><line x1="72.75" y1="239.90" x2="72.75" y2="257.40" stroke="#a09840" stroke-width="3.7"/><line x1="82.75" y1="239.90" x2="82.75" y2="257.40" stroke="#a09840" stroke-width="3.7"/><line x1="72.75" y1="240.90" x2="82.75" y2="256.40" stroke="#a09840" stroke-width="3.8850000000000002"/><polygon points="91.15,239.9 95.55,239.9 100.60,257.4 96.30,257.4 93.35,244.60 90.40,257.4 86.10,257.4" fill="#a0a038"/><line x1="89.10" y1="252.20" x2="97.60" y2="252.20" stroke="#a0a038" stroke-width="2.9600000000000004"/></g>
<text x="30.3" y="277.8" font-family='"Liberation Sans", sans-serif' font-size="7.3" fill="#1a1a1a" text-anchor="middle" transform="rotate(90 30.3 277.8)">H<tspan font-size="4.4" dy="1.2">2</tspan><tspan dy="-1.2">SO</tspan><tspan font-size="4.4" dy="1.2">4</tspan></text>
<line x1="27.80" y1="267.20" x2="27.80" y2="285.00" stroke="#1a1a1a" stroke-width="1.1" />
<polygon points="26.40,284.6 29.20,284.6 27.80,288.0" fill="#1a1a1a"/>
<text x="45.3" y="277.8" font-family='"Liberation Sans", sans-serif' font-size="7.3" fill="#1a1a1a" text-anchor="middle" transform="rotate(90 45.3 277.8)">HNO<tspan font-size="4.4" dy="1.2">3</tspan></text>
<line x1="42.80" y1="267.20" x2="42.80" y2="285.00" stroke="#1a1a1a" stroke-width="1.1" />
<polygon points="41.40,284.6 44.20,284.6 42.80,288.0" fill="#1a1a1a"/>
<text x="61.6" y="277.8" font-family='"Liberation Sans", sans-serif' font-size="7.3" fill="#1a1a1a" text-anchor="middle" transform="rotate(90 61.6 277.8)">Pristine</text>
<line x1="58.90" y1="267.20" x2="58.90" y2="285.00" stroke="#1a1a1a" stroke-width="1.1" />
<polygon points="57.50,284.6 60.30,284.6 58.90,288.0" fill="#1a1a1a"/>
<text x="77.8" y="277.8" font-family='"Liberation Sans", sans-serif' font-size="7.3" fill="#1a1a1a" text-anchor="middle" transform="rotate(90 77.8 277.8)">PEI</text>
<line x1="75.60" y1="267.20" x2="75.60" y2="285.00" stroke="#1a1a1a" stroke-width="1.1" />
<polygon points="74.20,284.6 77.00,284.6 75.60,288.0" fill="#1a1a1a"/>
<text x="93.0" y="277.8" font-family='"Liberation Sans", sans-serif' font-size="7.3" fill="#1a1a1a" text-anchor="middle" transform="rotate(90 93.0 277.8)">N<tspan font-size="4.4" dy="1.2">2</tspan><tspan dy="-1.2">H</tspan><tspan font-size="4.4" dy="1.2">4</tspan></text>
<line x1="91.10" y1="267.20" x2="91.10" y2="285.00" stroke="#1a1a1a" stroke-width="1.1" />
<polygon points="89.70,284.6 92.50,284.6 91.10,288.0" fill="#1a1a1a"/>
<rect x="26.3" y="292.3" width="78.6" height="29" fill="#1e1c68"/>
<rect x="29.8" y="295.3" width="72.5" height="23" fill="#f2c2b2"/>
<rect x="29.8" y="295.3" width="10.5" height="23" fill="#e4eac4"/>
<rect x="40.3" y="295.3" width="15.5" height="23" fill="#f4dcd0"/>
<rect x="55.8" y="295.3" width="10.5" height="23" fill="#bce6b0"/>
<rect x="66.3" y="295.3" width="36" height="23" fill="#f0b8a4"/>
<g transform="translate(0 307.2) skewX(-5) translate(0 -307.2)" fill="none" stroke-linecap="butt"><line x1="33.00" y1="298.40" x2="33.00" y2="316.00" stroke="#3c4cb0" stroke-width="3.0"/><line x1="33.00" y1="299.90" x2="40.00" y2="299.90" stroke="#3c4cb0" stroke-width="3.0"/><line x1="33.00" y1="314.50" x2="39.50" y2="314.50" stroke="#3c4cb0" stroke-width="3.0"/><line x1="44.50" y1="298.40" x2="44.50" y2="316.00" stroke="#3080a8" stroke-width="3.0"/><line x1="53.00" y1="298.40" x2="53.00" y2="316.00" stroke="#3080a8" stroke-width="3.0"/><line x1="44.50" y1="306.20" x2="53.00" y2="306.20" stroke="#3080a8" stroke-width="2.7"/><line x1="61.00" y1="298.40" x2="61.00" y2="316.00" stroke="#1e9050" stroke-width="5.0"/><line x1="71.50" y1="298.40" x2="71.50" y2="316.00" stroke="#d8a820" stroke-width="3.0"/><line x1="82.50" y1="298.40" x2="82.50" y2="316.00" stroke="#d8a820" stroke-width="3.0"/><line x1="71.50" y1="299.40" x2="82.50" y2="315.00" stroke="#d8a820" stroke-width="3.1500000000000004"/><polygon points="91.30,298.4 95.70,298.4 101.00,316 97.40,316 93.50,302.40 89.60,316 86.00,316" fill="#dcb020"/><line x1="89.00" y1="310.80" x2="98.00" y2="310.80" stroke="#dcb020" stroke-width="2.4000000000000004"/></g>
<rect x="112.2" y="200.8" width="54.8" height="51.7" fill="#dab4a4"/>
<rect x="113" y="201.6" width="53.2" height="50.1" fill="none" stroke="#e6c8b8" stroke-width="1.2"/>
<rect x="118.2" y="207.2" width="41.8" height="40.6" fill="#161a18"/>
<line x1="118.00" y1="213.60" x2="160.00" y2="213.60" stroke="#e8e8e0" stroke-width="0.8" />
<line x1="125.30" y1="207.40" x2="125.30" y2="247.80" stroke="#e8e8e0" stroke-width="0.8" />
<text x="140.5" y="220.8" font-family='"Liberation Sans", sans-serif' font-size="6.2" fill="#f4f4f4" text-anchor="middle" font-weight="normal" style="stroke:#f4f4f4;stroke-width:0.15">5 cm</text>
<text x="123.9" y="227.5" font-family='"Liberation Sans", sans-serif' font-size="5.8" fill="#f4f4f4" style="stroke:#f4f4f4;stroke-width:0.15" text-anchor="middle" transform="rotate(-90 123.9 227.5)">5 cm</text>
<line x1="167.00" y1="205.00" x2="173.50" y2="203.00" stroke="#c8a890" stroke-width="0.6" stroke-dasharray="1.2,1"/>
<line x1="167.00" y1="249.50" x2="173.50" y2="251.00" stroke="#c8a890" stroke-width="0.6" stroke-dasharray="1.2,1"/>
<rect x="111.2" y="270.8" width="55.5" height="51.1" fill="#3a2430"/>
<rect x="114.2" y="275.0" width="48.0" height="46.0" fill="url(#plate)"/>
<path d="M114.2,321 L114.2,275 L162.2,275" fill="none" stroke="#e4d2b0" stroke-width="2.2"/>
<rect x="121" y="296" width="34.7" height="10.4" fill="#160a12"/>
<path d="M160.6,321 L160.6,278 L162.3,272.5 L164,278 L164,321 Z" fill="#ddd4a8"/>
<line x1="162.30" y1="278.00" x2="162.30" y2="321.00" stroke="#8a7a50" stroke-width="0.5" />
<rect x="111.2" y="320.5" width="55.5" height="1.4" fill="#3a2a30"/>
<line x1="167.00" y1="274.50" x2="173.50" y2="272.50" stroke="#c8a890" stroke-width="0.6" stroke-dasharray="1.2,1"/>
<line x1="167.00" y1="319.50" x2="173.50" y2="320.80" stroke="#c8a890" stroke-width="0.6" stroke-dasharray="1.2,1"/>
<rect x="174" y="200.1" width="54.5" height="54.5" fill="#1a1c66"/>
<rect x="175.8" y="201.2" width="51.5" height="52" fill="#2a70cc"/>
<rect x="179" y="204.5" width="46" height="45.5" fill="#0a7ec8"/>
<rect x="174.3" y="271.2" width="54" height="49.7" fill="#1e3c98"/>
<rect x="175.8" y="272.2" width="51.5" height="47.5" fill="#2088c8"/>
<rect x="178" y="277" width="46" height="39" fill="#1e7ec6"/>
<line x1="176.00" y1="274.50" x2="226.00" y2="274.50" stroke="#38a8c0" stroke-width="1.6" />
<rect x="182.6" y="295.4" width="33.4" height="11.2" fill="#1e6cc4" stroke="#a0e048" stroke-width="1.3"/>
<path d="M192,306.8 Q200,312 210,306.8" fill="none" stroke="#c0e048" stroke-width="2.2"/>
<line x1="190.50" y1="272.50" x2="190.50" y2="278.00" stroke="#a8e060" stroke-width="1.2" />
<line x1="214.00" y1="295.00" x2="220.00" y2="283.00" stroke="#80d070" stroke-width="1.3" />
<line x1="186.00" y1="283.00" x2="188.00" y2="288.00" stroke="#60c090" stroke-width="0.9" />
<line x1="200.00" y1="288.00" x2="201.00" y2="292.00" stroke="#60c090" stroke-width="0.9" />
<line x1="226.30" y1="273.00" x2="226.30" y2="320.00" stroke="#40a8d0" stroke-width="1.3" />
<line x1="177.00" y1="296.00" x2="177.00" y2="318.00" stroke="#40a0c8" stroke-width="1.1" />
<line x1="178.00" y1="318.30" x2="226.00" y2="318.30" stroke="#3aa8b8" stroke-width="1.0" />
<rect x="222" y="315.5" width="5" height="3.5" fill="#b0dc58"/>
<text x="241.6" y="215.2" font-family='"Liberation Sans", sans-serif' font-size="9.8" fill="#1a1a1a" text-anchor="middle" font-weight="normal" textLength="19" lengthAdjust="spacingAndGlyphs" style="">print</text>
<text x="241.6" y="240.6" font-family='"Liberation Sans", sans-serif' font-size="9.8" fill="#1a1a1a" text-anchor="middle" font-weight="normal" textLength="23.6" lengthAdjust="spacingAndGlyphs" style="">erase</text>
<line x1="232.70" y1="224.20" x2="250.50" y2="224.20" stroke="#111" stroke-width="1.3" />
<line x1="250.50" y1="224.20" x2="245.80" y2="220.40" stroke="#111" stroke-width="1.3" />
<line x1="232.70" y1="228.10" x2="250.50" y2="228.10" stroke="#111" stroke-width="1.3" />
<line x1="232.70" y1="228.10" x2="237.20" y2="231.70" stroke="#111" stroke-width="1.3" />
<text x="241.8" y="287.7" font-family='"Liberation Sans", sans-serif' font-size="9.8" fill="#1a1a1a" text-anchor="middle" font-weight="normal" textLength="20.2" lengthAdjust="spacingAndGlyphs" style="">write</text>
<text x="242.8" y="314.0" font-family='"Liberation Sans", sans-serif' font-size="9.8" fill="#1a1a1a" text-anchor="middle" font-weight="normal" textLength="23.8" lengthAdjust="spacingAndGlyphs" style="">erase</text>
<line x1="232.70" y1="296.90" x2="250.50" y2="296.90" stroke="#111" stroke-width="1.3" />
<line x1="250.50" y1="296.90" x2="245.80" y2="293.10" stroke="#111" stroke-width="1.3" />
<line x1="232.70" y1="300.80" x2="250.50" y2="300.80" stroke="#111" stroke-width="1.3" />
<line x1="232.70" y1="300.80" x2="237.20" y2="304.40" stroke="#111" stroke-width="1.3" />
<rect x="255.2" y="200.2" width="54.8" height="53.4" fill="#1e2c80"/>
<rect x="257" y="202" width="51" height="49.8" fill="#2a5cc0"/>
<rect x="262.3" y="207.3" width="41.2" height="41.2" fill="#8a5cb0"/>
<rect x="282.90" y="207.30" width="2.11" height="2.11" fill="#e49a40"/>
<rect x="284.96" y="207.30" width="2.11" height="2.11" fill="#e08a40"/>
<rect x="287.02" y="207.30" width="2.11" height="2.11" fill="#e49a40"/>
<rect x="293.20" y="207.30" width="2.11" height="2.11" fill="#e08a40"/>
<rect x="278.78" y="209.36" width="2.11" height="2.11" fill="#e08a40"/>
<rect x="282.90" y="209.36" width="2.11" height="2.11" fill="#e08a40"/>
<rect x="287.02" y="209.36" width="2.11" height="2.11" fill="#e49a40"/>
<rect x="291.14" y="209.36" width="2.11" height="2.11" fill="#e49a40"/>
<rect x="293.20" y="209.36" width="2.11" height="2.11" fill="#d8b840"/>
<rect x="282.90" y="211.42" width="2.11" height="2.11" fill="#e49a40"/>
<rect x="284.96" y="211.42" width="2.11" height="2.11" fill="#d8b840"/>
<rect x="289.08" y="211.42" width="2.11" height="2.11" fill="#e08a40"/>
<rect x="293.20" y="211.42" width="2.11" height="2.11" fill="#d8b840"/>
<rect x="295.26" y="211.42" width="2.11" height="2.11" fill="#e49a40"/>
<rect x="301.44" y="211.42" width="2.11" height="2.11" fill="#e49a40"/>
<rect x="280.84" y="213.48" width="2.11" height="2.11" fill="#e49a40"/>
<rect x="284.96" y="213.48" width="2.11" height="2.11" fill="#e08a40"/>
<rect x="287.02" y="213.48" width="2.11" height="2.11" fill="#e49a40"/>
<rect x="291.14" y="213.48" width="2.11" height="2.11" fill="#e49a40"/>
<rect x="295.26" y="213.48" width="2.11" height="2.11" fill="#e49a40"/>
<rect x="297.32" y="213.48" width="2.11" height="2.11" fill="#e08a40"/>
<rect x="299.38" y="213.48" width="2.11" height="2.11" fill="#d8b840"/>
<rect x="301.44" y="213.48" width="2.11" height="2.11" fill="#a8d040"/>
<rect x="278.78" y="215.54" width="2.11" height="2.11" fill="#e08a40"/>
<rect x="282.90" y="215.54" width="2.11" height="2.11" fill="#a8d040"/>
<rect x="284.96" y="215.54" width="2.11" height="2.11" fill="#a8d040"/>
<rect x="289.08" y="215.54" width="2.11" height="2.11" fill="#e08a40"/>
<rect x="291.14" y="215.54" width="2.11" height="2.11" fill="#e49a40"/>
<rect x="293.20" y="215.54" width="2.11" height="2.11" fill="#e49a40"/>
<rect x="295.26" y="215.54" width="2.11" height="2.11" fill="#a8d040"/>
<rect x="299.38" y="215.54" width="2.11" height="2.11" fill="#e08a40"/>
<rect x="282.90" y="217.60" width="2.11" height="2.11" fill="#e08a40"/>
<rect x="284.96" y="217.60" width="2.11" height="2.11" fill="#e49a40"/>
<rect x="291.14" y="217.60" width="2.11" height="2.11" fill="#e08a40"/>
<rect x="299.38" y="217.60" width="2.11" height="2.11" fill="#d8b840"/>
<rect x="301.44" y="217.60" width="2.11" height="2.11" fill="#d8b840"/>
<rect x="278.78" y="219.66" width="2.11" height="2.11" fill="#e08a40"/>
<rect x="282.90" y="219.66" width="2.11" height="2.11" fill="#e08a40"/>
<rect x="284.96" y="219.66" width="2.11" height="2.11" fill="#d8b840"/>
<rect x="293.20" y="219.66" width="2.11" height="2.11" fill="#e08a40"/>
<rect x="297.32" y="219.66" width="2.11" height="2.11" fill="#e49a40"/>
<rect x="299.38" y="219.66" width="2.11" height="2.11" fill="#e08a40"/>
<rect x="301.44" y="219.66" width="2.11" height="2.11" fill="#a8d040"/>
<rect x="287.02" y="221.72" width="2.11" height="2.11" fill="#e08a40"/>
<rect x="289.08" y="221.72" width="2.11" height="2.11" fill="#e08a40"/>
<rect x="291.14" y="221.72" width="2.11" height="2.11" fill="#e08a40"/>
<rect x="299.38" y="221.72" width="2.11" height="2.11" fill="#e08a40"/>
<rect x="262.30" y="223.78" width="2.11" height="2.11" fill="#a8d040"/>
<rect x="266.42" y="223.78" width="2.11" height="2.11" fill="#a8d040"/>
<rect x="270.54" y="223.78" width="2.11" height="2.11" fill="#a8d040"/>
<rect x="287.02" y="223.78" width="2.11" height="2.11" fill="#a8d040"/>
<rect x="295.26" y="223.78" width="2.11" height="2.11" fill="#e49a40"/>
<rect x="264.36" y="225.84" width="2.11" height="2.11" fill="#e09040"/>
<rect x="270.54" y="225.84" width="2.11" height="2.11" fill="#e09040"/>
<rect x="280.84" y="225.84" width="2.11" height="2.11" fill="#e08a40"/>
<rect x="287.02" y="225.84" width="2.11" height="2.11" fill="#e49a40"/>
<rect x="291.14" y="225.84" width="2.11" height="2.11" fill="#e49a40"/>
<rect x="295.26" y="225.84" width="2.11" height="2.11" fill="#e49a40"/>
<rect x="299.38" y="225.84" width="2.11" height="2.11" fill="#d8b840"/>
<rect x="301.44" y="225.84" width="2.11" height="2.11" fill="#e08a40"/>
<rect x="264.36" y="227.90" width="2.11" height="2.11" fill="#a8d040"/>
<rect x="270.54" y="227.90" width="2.11" height="2.11" fill="#e09040"/>
<rect x="272.60" y="227.90" width="2.11" height="2.11" fill="#e09040"/>
<rect x="274.66" y="227.90" width="2.11" height="2.11" fill="#a8d040"/>
<rect x="278.78" y="227.90" width="2.11" height="2.11" fill="#a8d040"/>
<rect x="280.84" y="227.90" width="2.11" height="2.11" fill="#e08a40"/>
<rect x="287.02" y="227.90" width="2.11" height="2.11" fill="#e08a40"/>
<rect x="291.14" y="227.90" width="2.11" height="2.11" fill="#d8b840"/>
<rect x="295.26" y="227.90" width="2.11" height="2.11" fill="#a8d040"/>
<rect x="297.32" y="227.90" width="2.11" height="2.11" fill="#a8d040"/>
<rect x="264.36" y="229.96" width="2.11" height="2.11" fill="#c8c440"/>
<rect x="268.48" y="229.96" width="2.11" height="2.11" fill="#a8d040"/>
<rect x="270.54" y="229.96" width="2.11" height="2.11" fill="#c8c440"/>
<rect x="272.60" y="229.96" width="2.11" height="2.11" fill="#c8c440"/>
<rect x="282.90" y="229.96" width="2.11" height="2.11" fill="#e09040"/>
<rect x="284.96" y="229.96" width="2.11" height="2.11" fill="#a8d040"/>
<rect x="287.02" y="229.96" width="2.11" height="2.11" fill="#c8c440"/>
<rect x="289.08" y="229.96" width="2.11" height="2.11" fill="#e09040"/>
<rect x="291.14" y="229.96" width="2.11" height="2.11" fill="#a8d040"/>
<rect x="293.20" y="229.96" width="2.11" height="2.11" fill="#a8d040"/>
<rect x="297.32" y="229.96" width="2.11" height="2.11" fill="#e09040"/>
<rect x="299.38" y="229.96" width="2.11" height="2.11" fill="#e09040"/>
<rect x="278.78" y="232.02" width="2.11" height="2.11" fill="#b8c440"/>
<rect x="282.90" y="232.02" width="2.11" height="2.11" fill="#c8c440"/>
<rect x="284.96" y="232.02" width="2.11" height="2.11" fill="#c8c440"/>
<rect x="278.78" y="234.08" width="2.11" height="2.11" fill="#c8c440"/>
<rect x="280.84" y="234.08" width="2.11" height="2.11" fill="#a8d040"/>
<rect x="284.96" y="234.08" width="2.11" height="2.11" fill="#c8c440"/>
<rect x="278.78" y="236.14" width="2.11" height="2.11" fill="#c8c440"/>
<rect x="280.84" y="238.20" width="2.11" height="2.11" fill="#b8c440"/>
<rect x="282.90" y="238.20" width="2.11" height="2.11" fill="#a8d040"/>
<rect x="284.96" y="238.20" width="2.11" height="2.11" fill="#b8c440"/>
<rect x="280.84" y="240.26" width="2.11" height="2.11" fill="#b8c440"/>
<rect x="284.96" y="240.26" width="2.11" height="2.11" fill="#a8d040"/>
<rect x="280.84" y="242.32" width="2.11" height="2.11" fill="#b8c440"/>
<rect x="284.96" y="242.32" width="2.11" height="2.11" fill="#c8c440"/>
<rect x="278.78" y="244.38" width="2.11" height="2.11" fill="#b8c440"/>
<rect x="280.84" y="244.38" width="2.11" height="2.11" fill="#a8d040"/>
<rect x="278.78" y="246.44" width="2.11" height="2.11" fill="#a8d040"/>
<rect x="280.84" y="246.44" width="2.11" height="2.11" fill="#c8c440"/>
<rect x="282.90" y="246.44" width="2.11" height="2.11" fill="#a8d040"/>
<rect x="284.96" y="246.44" width="2.11" height="2.11" fill="#a8d040"/>
<rect x="263.33" y="208.33" width="12.36" height="12.36" fill="none" stroke="#d89a40" stroke-width="2.06"/>
<rect x="266.42" y="211.42" width="6.18" height="6.18" fill="#e08a40"/>
<rect x="263.33" y="235.11" width="12.36" height="12.36" fill="none" stroke="#c8c440" stroke-width="2.06"/>
<rect x="266.42" y="238.20" width="6.18" height="6.18" fill="#c8c440"/>
<rect x="290.11" y="235.11" width="12.36" height="12.36" fill="none" stroke="#c8c440" stroke-width="2.06"/>
<rect x="293.20" y="238.20" width="6.18" height="6.18" fill="#c8c440"/>
<rect x="256.3" y="270.8" width="52.9" height="50" fill="#1e3c98"/>
<rect x="258" y="271.5" width="50.5" height="47.5" fill="#1a78c0"/>
<rect x="260" y="274" width="45" height="43" fill="none" stroke="#3a9ac8" stroke-width="1"/>
<rect x="258" y="314" width="50.5" height="4.5" fill="#1a62b8"/>
<rect x="264.4" y="295.8" width="34.6" height="10.5" fill="#2470c0" stroke="#a8d850" stroke-width="1.0"/>
<text x="281.7" y="304.2" font-family='"Liberation Sans", sans-serif' font-size="7.6" font-weight="bold" fill="#2a64b0" stroke="#b8d870" stroke-width="0.55" text-anchor="middle" textLength="25" lengthAdjust="spacingAndGlyphs">EEDOT</text>
<line x1="303.00" y1="274.00" x2="303.00" y2="318.00" stroke="#3a8ad0" stroke-width="1" />
<line x1="273.00" y1="272.00" x2="273.00" y2="276.00" stroke="#90d860" stroke-width="1" />
<line x1="286.00" y1="273.00" x2="300.00" y2="273.00" stroke="#60c080" stroke-width="1.2" />
<line x1="300.00" y1="317.00" x2="306.00" y2="317.00" stroke="#a0d860" stroke-width="1.4" />
<line x1="268.00" y1="310.00" x2="272.00" y2="310.00" stroke="#60c080" stroke-width="1.2" />
<rect x="318.5" y="216" width="7.5" height="96" fill="url(#cbar)"/>
<text x="325.2" y="212.4" font-family='"Liberation Sans", sans-serif' font-size="7.0" fill="#222" text-anchor="middle" font-weight="normal" textLength="18.4" lengthAdjust="spacingAndGlyphs" style="">35 °C</text>
<text x="324.2" y="320.6" font-family='"Liberation Sans", sans-serif' font-size="7.0" fill="#222" text-anchor="middle" font-weight="normal" textLength="18.4" lengthAdjust="spacingAndGlyphs" style="">29 °C</text>
<line x1="171.5" y1="1.0" x2="171.5" y2="188.5" stroke="#4c6cc4" stroke-width="1.3" stroke-dasharray="6,7.9"/>
<line x1="358.2" y1="1.0" x2="358.2" y2="188.5" stroke="#4c6cc4" stroke-width="1.3" stroke-dasharray="6,8.1"/>
<line x1="5.0" y1="189.8" x2="550" y2="189.8" stroke="#4c6cc4" stroke-width="1.3" stroke-dasharray="6.5,7.26"/>
<line x1="345.7" y1="192.2" x2="345.7" y2="338" stroke="#4c6cc4" stroke-width="1.3" stroke-dasharray="6.5,5.7"/>
</svg>
</body></html>
